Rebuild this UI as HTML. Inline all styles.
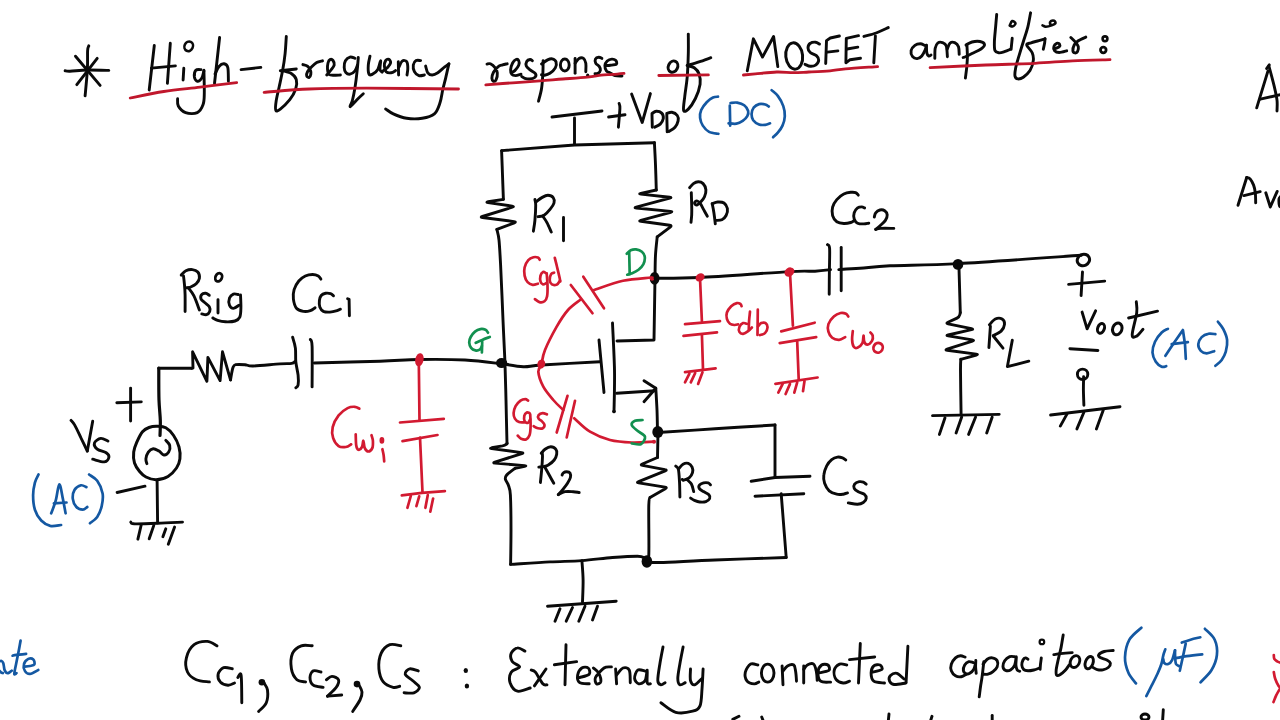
<!DOCTYPE html>
<html><head><meta charset="utf-8"><title>High-frequency response of MOSFET amplifier</title>
<style>
html,body{margin:0;padding:0;background:#fff;width:1280px;height:720px;overflow:hidden;font-family:"Liberation Sans",sans-serif;}
svg{display:block;position:absolute;left:0;top:0;}
</style></head><body>
<svg width="1280" height="720" viewBox="0 0 1280 720" fill="none" stroke-linecap="round" stroke-linejoin="round">
<path d="M88.8 45.8C88.6 46.6 87.8 46.9 87.6 50.8C87.4 54.7 87.8 61.7 87.4 69.2C87 76.7 85.5 91.4 85.1 95.8" stroke="#0a0a0a" stroke-width="2.9"/>
<path d="M65.1 70.8C65.9 70.9 66.3 71.3 70 71.2C73.7 71.1 80.7 70.1 87.2 70C93.7 69.9 105.2 70.3 108.8 70.4" stroke="#0a0a0a" stroke-width="2.9"/>
<path d="M75.5 56.2 L100.1 85.4" stroke="#0a0a0a" stroke-width="2.9"/>
<path d="M97.2 58.3 L76.8 84.6" stroke="#0a0a0a" stroke-width="2.9"/>
<path d="M154.3 45.5 L149.2 90" stroke="#0a0a0a" stroke-width="2.9"/>
<path d="M170.3 43.3 L167.4 83.4" stroke="#0a0a0a" stroke-width="2.9"/>
<path d="M151.4 68.1 L175.4 65.9" stroke="#0a0a0a" stroke-width="2.9"/>
<path d="M183.8 68.3 L183.1 80" stroke="#0a0a0a" stroke-width="2.9"/>
<ellipse cx="188.7" cy="46.3" rx="4.2" ry="4.9" transform="rotate(25 188.7 46.3)" stroke="#0a0a0a" stroke-width="2.6"/>
<path d="M201 69.6C200.1 69.7 196.9 69.1 195.8 70.3C194.7 71.5 194.2 75.1 194.4 76.9C194.7 78.7 196.1 81.1 197.3 81.3C198.5 81.5 200.6 80 201.7 78.3C202.8 76.6 203.5 72.2 203.9 71" stroke="#0a0a0a" stroke-width="2.9"/>
<path d="M203.9 70.3C204 74.1 204.4 87.2 204.3 92.9C204.2 98.6 204.3 101.3 203.1 104.6C201.9 107.9 200.2 111.3 197.3 112.6C194.4 113.9 188.8 113.7 185.6 112.6C182.4 111.5 179.6 108.3 178.3 106C177 103.7 177.7 100 177.6 98.8" stroke="#0a0a0a" stroke-width="2.9"/>
<path d="M219.6 37.5 L214.5 83.5" stroke="#0a0a0a" stroke-width="2.9"/>
<path d="M215 74C215.7 72.8 217.5 68.2 219 66.5C220.5 64.8 222.5 63.6 224 63.8C225.5 64 227.1 64.6 227.8 67.5C228.5 70.4 228.3 79 228.4 81.3" stroke="#0a0a0a" stroke-width="2.9"/>
<path d="M241.1 69.6 L260.8 67.4" stroke="#0a0a0a" stroke-width="2.9"/>
<path d="M130.2 98C135.8 96.9 152.1 93.3 163.8 91.5C175.5 89.7 188 88.6 200.2 87.1C212.3 85.6 230.6 83.4 236.7 82.7" stroke="#c0172c" stroke-width="2.8"/>
<path d="M286.3 36.5C286.1 39.4 285.7 48 285.1 53.6C284.5 59.2 283.7 64.6 282.7 70.1C281.7 75.6 280.3 81.6 279.2 86.7C278.1 91.8 276.8 96.9 276.2 100.8C275.6 104.7 275.1 108.9 275.8 110.3C276.5 111.7 278 110.9 280.3 109.1C282.6 107.3 287.2 103 289.8 99.7C292.4 96.4 294.6 92.3 295.7 89C296.8 85.7 297 82.1 296.3 79.6C295.6 77 293.9 75.2 291.6 73.7C289.3 72.2 284.2 71.2 282.7 70.7" stroke="#0a0a0a" stroke-width="2.9"/>
<path d="M280.3 70.7 L296.3 69" stroke="#0a0a0a" stroke-width="2.9"/>
<path d="M302.9 64.6C303.7 64.9 306.2 65.3 307.5 66.2C308.8 67.2 309.8 68.7 310.4 70C310.9 71.3 311 73 310.8 74.2C310.6 75.5 309.9 77.2 309.2 77.5C308.5 77.8 307 76.8 306.7 75.8C306.4 74.8 306.7 73.2 307.5 71.7C308.3 70.2 310.2 68.2 311.7 66.7C313.2 65.2 314.9 63.5 316.7 62.5C318.5 61.5 321.5 61.1 322.5 60.8" stroke="#0a0a0a" stroke-width="2.9"/>
<path d="M326.7 75C327.4 74.2 329.8 71.7 331 70C332.2 68.3 333.9 66.6 334.2 65C334.5 63.4 333.7 61.4 333 60.5C332.3 59.6 330.8 59.2 330 59.6C329.2 60 328.4 61.4 328 63C327.6 64.6 327.3 67.1 327.5 69C327.7 70.9 327.8 73.5 329 74.5C330.2 75.5 333.1 75.1 335 75.2C336.9 75.3 339.5 75 340.4 75" stroke="#0a0a0a" stroke-width="2.9"/>
<path d="M355 58.3C354.2 58.1 351.6 56.7 350 57.1C348.4 57.5 346.4 59.1 345.4 60.8C344.4 62.5 344.1 65.5 344.2 67.5C344.3 69.5 344.8 71.4 345.8 72.5C346.8 73.6 348.5 74.5 350 74.2C351.5 73.9 353.8 72.3 355 70.8C356.2 69.3 357.1 66 357.5 65" stroke="#0a0a0a" stroke-width="2.9"/>
<path d="M358.3 57.5C358.1 59.7 357.7 65.8 357.1 70.8C356.6 75.8 355.8 82.6 355 87.5C354.2 92.4 353.3 96.8 352.5 100C351.7 103.2 349.5 106.7 350.2 106.7C350.9 106.7 354.5 102.2 356.7 100C358.9 97.8 362.2 94.8 363.3 93.8" stroke="#0a0a0a" stroke-width="2.9"/>
<path d="M370 56.1C369.7 57.6 368.5 62 368.3 65C368.1 68 368.2 72.3 368.9 73.9C369.5 75.5 370.7 75.2 372.2 74.4C373.7 73.7 376.4 71.7 377.8 69.4C379.2 67.1 380.2 60.6 380.6 60.6C381 60.6 379.7 67.5 380 69.4C380.3 71.3 381.8 71.7 382.2 72.2" stroke="#0a0a0a" stroke-width="2.9"/>
<path d="M383.3 70.6C384.1 70 386.6 68.5 387.8 67.2C389 65.9 390.4 64.1 390.6 62.8C390.8 61.5 389.7 59.8 388.9 59.4C388.1 59 386.4 59.5 385.6 60.6C384.9 61.7 384.3 64.2 384.4 66.1C384.5 67.9 385 70.6 386.1 71.7C387.2 72.8 389.5 73 391.1 72.8C392.7 72.6 394.9 71 395.6 70.6" stroke="#0a0a0a" stroke-width="2.9"/>
<path d="M398.3 61.7 L398.6 75" stroke="#0a0a0a" stroke-width="2.9"/>
<path d="M398.9 67.2C399.4 66.2 400.9 62 402.2 61.1C403.5 60.2 405.8 60.5 406.7 61.7C407.6 62.9 407.8 66.1 407.8 68.3C407.9 70.5 407.1 73.9 407 75" stroke="#0a0a0a" stroke-width="2.9"/>
<path d="M420.6 60.6C419.9 60.6 417.3 59.9 416.1 60.6C414.9 61.3 413.6 63.1 413.3 65C413 66.8 413.5 69.9 414.4 71.7C415.3 73.5 417.2 75 418.9 75.6C420.6 76.1 423.5 75.1 424.4 75" stroke="#0a0a0a" stroke-width="2.9"/>
<path d="M425.6 66.1C426 67.2 426.7 71.3 427.8 72.8C428.9 74.3 430.5 75 432.2 75C433.9 75 435.8 74.1 437.8 72.8C439.8 71.5 442.5 68.7 444.4 67.2C446.2 65.7 448.1 64.5 448.9 63.9" stroke="#0a0a0a" stroke-width="2.9"/>
<path d="M448.9 63.9C448.3 66.3 446.6 74 445.6 78.3C444.6 82.5 443.7 85.3 442.8 89.4C441.9 93.5 441.4 98.7 440 102.8C438.6 106.9 437.4 111.3 434.4 113.9C431.4 116.5 426.8 117.6 422.2 118.3C417.6 119 411.5 119 406.7 118.3C401.9 117.6 396.8 115.5 393.3 113.9C389.8 112.3 386.9 109.7 385.6 108.9" stroke="#0a0a0a" stroke-width="2.9"/>
<path d="M264.1 92.3C271.6 91.8 292.1 89.7 309.2 89C326.3 88.3 341.7 88.2 366.6 88.2C391.5 88.2 443.2 88.9 458.5 89" stroke="#c0172c" stroke-width="2.8"/>
<path d="M487 64.1C487.6 64 489.1 63.2 490.4 63.8C491.7 64.4 493.9 66.1 495 67.6C496.1 69.1 497.1 70.9 497.3 72.9C497.5 74.9 496.7 78.4 496.1 79.8C495.5 81.2 494.2 81.5 493.5 81.3C492.8 81 491.9 79.8 491.9 78.3C491.9 76.8 492.5 74.1 493.5 72.2C494.5 70.3 496.5 68 498 66.8C499.5 65.6 501.1 65.4 502.6 64.9C504.1 64.4 506.4 64 507.2 63.8" stroke="#0a0a0a" stroke-width="2.9"/>
<path d="M511 72.9C511.6 72.5 513.5 71.9 514.8 70.6C516.1 69.3 518.1 66.9 518.7 65.3C519.4 63.6 519.2 61.7 518.7 60.7C518.2 59.7 517 59.1 516 59.5C515 59.9 513.5 61.3 512.6 63C511.7 64.7 510.7 68 510.6 69.9C510.5 71.8 511 73.5 511.8 74.4C512.6 75.4 514.1 75.6 515.6 75.6C517.1 75.5 520.1 74.3 521 74.1" stroke="#0a0a0a" stroke-width="2.9"/>
<path d="M532.4 60.7C532 60.5 531 59.4 530.1 59.5C529.2 59.6 527.3 60.4 526.7 61.5C526.1 62.6 525.7 64.6 526.3 66C526.9 67.4 528.6 68.6 530.1 69.9C531.6 71.2 534.7 72.4 535.5 73.7C536.3 75 535.7 76.6 534.7 77.5C533.7 78.4 531 78.9 529.4 79C527.8 79.1 526.1 78.7 524.8 78.3C523.5 77.9 522.2 76.7 521.7 76.4" stroke="#0a0a0a" stroke-width="2.9"/>
<path d="M543.1 60.7C543.1 62.7 543.1 68.3 542.9 72.9C542.6 77.5 542.3 83.5 541.6 88.2C540.9 92.9 539 99 538.5 101.2" stroke="#0a0a0a" stroke-width="2.9"/>
<path d="M541.5 64C542.5 63.3 545.8 60.8 547.6 59.9C549.4 59 550.8 58.5 552.2 58.8C553.6 59.1 555.5 60.3 556 61.8C556.5 63.3 556.3 66 555.3 67.9C554.3 69.8 551.7 72.1 549.9 73.3C548.1 74.5 546 75 544.6 75.2C543.2 75.5 542 74.9 541.5 74.8" stroke="#0a0a0a" stroke-width="2.9"/>
<ellipse cx="564.8" cy="65" rx="4.4" ry="6" stroke="#0a0a0a" stroke-width="2.9"/>
<path d="M575.1 58.4 L575.1 73.3" stroke="#0a0a0a" stroke-width="2.9"/>
<path d="M575.1 63.3C575.8 62.5 577.6 59.2 579 58.4C580.4 57.6 582.4 57.6 583.5 58.4C584.6 59.2 585.4 61.1 585.8 63.3C586.2 65.5 585.8 70.3 585.8 71.7" stroke="#0a0a0a" stroke-width="2.9"/>
<ellipse cx="587.7" cy="75.2" rx="1.6" ry="1.6" fill="#0a0a0a" stroke="none"/>
<path d="M601.9 58.4C601.4 58.2 599.9 57.1 598.8 57.2C597.7 57.3 595.9 58.1 595.4 59.1C594.9 60.1 595.2 62.1 595.8 63.3C596.4 64.5 598.4 65.2 599.2 66.4C600 67.6 600.6 69.1 600.4 70.2C600.2 71.3 599 72.7 598.1 73.3C597.2 73.9 595.5 73.5 595 73.6" stroke="#0a0a0a" stroke-width="2.9"/>
<path d="M605.7 65.6C606.5 65.5 608.5 65.5 610.3 65.2C612.1 65 615.5 64.9 616.4 64.1C617.3 63.3 616.4 61.1 615.6 60.3C614.8 59.5 613.2 59 611.8 59.1C610.4 59.2 608.4 59.9 607.2 61C606.1 62.1 605 63.9 604.9 65.6C604.8 67.3 605.7 69.8 606.5 71C607.3 72.2 608.1 71.8 609.5 72.5C610.9 73.2 612.9 74.9 615 75.5C617.1 76.1 620.8 75.9 622 76" stroke="#0a0a0a" stroke-width="2.9"/>
<path d="M485.8 84.8C490.3 84.5 503.6 83.4 512.6 82.8C521.6 82.2 531.6 81.5 540 80.9C548.4 80.3 555 79.6 562.9 79C570.8 78.4 581 77.7 587.4 77.1C593.8 76.5 596.9 75.7 601.1 75.2C605.3 74.8 608.8 74.7 612.6 74.4C616.4 74.1 622.1 73.5 624 73.3" stroke="#c0172c" stroke-width="2.8"/>
<ellipse cx="673" cy="66.6" rx="4.6" ry="5.8" transform="rotate(25 673 66.6)" stroke="#0a0a0a" stroke-width="3"/>
<path d="M688.3 34.1C688.3 37.4 688.5 46.4 688.3 53.6C688.1 60.8 687.8 70.1 687.2 77.2C686.6 84.3 685.4 90.6 684.8 96.1C684.2 101.6 683 108.1 683.6 110.3C684.2 112.5 686.3 111.1 688.3 109.1C690.3 107.1 693.4 102.6 695.4 98.5C697.4 94.4 699.5 88.4 700.1 84.3C700.7 80.2 700 76.5 699 73.7C698 71 696.2 69.2 694.2 67.8C692.2 66.4 688.4 65.8 687.2 65.4" stroke="#0a0a0a" stroke-width="2.9"/>
<path d="M687.2 65.4C689.2 64.8 695.1 63.2 699 61.9C702.9 60.6 708.8 58.4 710.8 57.7" stroke="#0a0a0a" stroke-width="2.9"/>
<path d="M658.8 75.5L708.4 74.9" stroke="#c0172c" stroke-width="2.8"/>
<path d="M747.3 70.8 L753.4 38.8 L762.5 57.1 L773.6 36.5 L777.8 66.6" stroke="#0a0a0a" stroke-width="2.9"/>
<ellipse cx="794.2" cy="56" rx="8.4" ry="13.2" transform="rotate(-6 794.2 56)" stroke="#0a0a0a" stroke-width="3"/>
<path d="M819.5 44.1C818.9 43.8 817.1 42.3 815.6 42.2C814.1 42.1 811.6 42.3 810.3 43.3C809 44.2 808 46.4 808 47.9C808 49.4 808.9 51.2 810.3 52.5C811.7 53.8 815 54.3 816.4 55.6C817.8 56.9 818.8 58.5 818.7 60.1C818.6 61.7 817 64.1 815.6 65.1C814.2 66.1 812.1 66.4 810.3 66.3C808.5 66.2 805.9 64.6 805 64.3" stroke="#0a0a0a" stroke-width="2.9"/>
<path d="M825.7 63.5 L826.5 40.6 L830.3 38 L839.4 36" stroke="#0a0a0a" stroke-width="2.9"/>
<path d="M827.2 52.1 L837.9 50.9" stroke="#0a0a0a" stroke-width="2.9"/>
<path d="M858.5 35.7 L846.3 38.3 L845.9 62.8 L850.1 59.7 L860.5 58.2" stroke="#0a0a0a" stroke-width="2.9"/>
<path d="M847.1 49 L857.8 47.1" stroke="#0a0a0a" stroke-width="2.9"/>
<path d="M863.9 36.4C865.9 35.8 872 34.5 876.1 33C880.2 31.5 886.3 28.5 888.3 27.6" stroke="#0a0a0a" stroke-width="2.9"/>
<path d="M875.4 36 L873.8 62.8" stroke="#0a0a0a" stroke-width="2.9"/>
<path d="M743.4 75C745.4 74.8 749.8 74.4 755.3 73.9C760.8 73.4 770.3 72.2 776.7 72C783.1 71.8 788.1 72.7 793.5 72.7C798.9 72.7 802.7 72.3 808.8 72C814.9 71.7 823.9 71.3 830 70.8C836.1 70.3 837.7 69.6 845.6 68.9C853.5 68.2 872.3 67 877.6 66.6" stroke="#c0172c" stroke-width="2.8"/>
<path d="M924.5 45.3C923.8 45 921.9 43.8 920.3 43.8C918.7 43.8 916.4 44.2 914.9 45.3C913.4 46.4 911.5 48.7 911.1 50.6C910.7 52.5 911.6 55.4 912.6 56.7C913.6 58 915.7 58.7 917.2 58.6C918.7 58.5 920.5 57.5 921.8 56C923.1 54.5 924.4 51.7 925.2 49.9C926 48.1 926.2 46.1 926.4 45.3" stroke="#0a0a0a" stroke-width="2.9"/>
<path d="M926.4 45.3C926.5 46.6 926.4 51.1 926.8 52.9C927.2 54.7 928 55.6 928.7 56C929.4 56.4 930.6 55.2 931 55" stroke="#0a0a0a" stroke-width="2.9"/>
<path d="M934.8 58.3C934.9 56.6 934.7 50.8 935.2 48.3C935.7 45.8 936.6 44 937.8 43C939 42 941 42.1 942.4 42.6C943.8 43.1 945.5 43.6 946.3 46C947.1 48.4 947.2 54.9 947.4 56.7" stroke="#0a0a0a" stroke-width="2.9"/>
<path d="M947.2 49C947.7 48 948.9 44.1 950.1 43C951.4 41.9 953.3 42 954.7 42.6C956.1 43.2 957.8 44.8 958.5 46.8C959.2 48.8 959.1 53.1 959.2 54.4" stroke="#0a0a0a" stroke-width="2.9"/>
<path d="M966.9 44.5C967 46.5 967.4 53 967.4 56.7C967.4 60.4 967.1 63.1 966.8 66.7C966.5 70.3 965.6 76.2 965.4 78.1" stroke="#0a0a0a" stroke-width="2.9"/>
<path d="M963.1 57.5C963.6 57.3 964.5 57.2 966 56.5C967.5 55.8 969.5 54.8 972 53.5C974.5 52.2 978.9 50.5 981 49C983.1 47.5 984.7 45.8 984.5 44.5C984.3 43.2 982.1 41.9 980 41.5C977.9 41.1 974.3 41.4 972 42C969.7 42.6 967 44.5 966 45" stroke="#0a0a0a" stroke-width="2.9"/>
<path d="M996.7 14.4C996.5 16.5 996 22.6 995.6 27.2C995.2 31.8 994.5 37.8 994.4 41.7C994.3 45.6 994.2 48.8 995 50.6C995.8 52.5 997.3 52.6 998.9 52.8C1000.5 53 1002.5 52.3 1004.4 51.7C1006.2 51.1 1009.1 49.8 1010 49.4" stroke="#0a0a0a" stroke-width="2.9"/>
<path d="M1012.2 38.3 L1011.1 49.4" stroke="#0a0a0a" stroke-width="2.9"/>
<path d="M1009.7 25.6C1010.1 24.8 1011.2 21.4 1012.2 21C1013.2 20.6 1015.4 22.6 1015.5 23.5C1015.6 24.4 1013.6 26 1012.7 26.4C1011.8 26.8 1010.4 25.9 1009.9 25.8" stroke="#0a0a0a" stroke-width="2.6"/>
<path d="M1030.6 12.8C1030.1 15.2 1029 22.4 1027.8 27.2C1026.6 32 1024.8 36.9 1023.3 41.7C1021.8 46.5 1020.2 51.7 1018.9 56.1C1017.6 60.5 1016.2 65 1015.6 68.3C1015 71.6 1014.6 74.3 1015 76.1C1015.4 77.9 1016.4 78.7 1017.8 78.9C1019.2 79.1 1021.3 78.6 1023.3 77.2C1025.3 75.8 1028.3 73.4 1030 70.6C1031.7 67.8 1032.9 63.6 1033.3 60.6C1033.7 57.6 1033.3 55.4 1032.2 52.8C1031.1 50.2 1026.9 46.7 1026.7 45C1026.5 43.3 1029.1 43.5 1031.1 42.8C1033.1 42.1 1036.6 41.3 1038.9 40.6C1041.2 39.9 1044 39.1 1045 38.8" stroke="#0a0a0a" stroke-width="2.9"/>
<path d="M1045 38.8C1044.9 39.5 1044.9 41.6 1044.6 43.3C1044.3 45 1043.5 48.2 1043.3 49.2" stroke="#0a0a0a" stroke-width="2.9"/>
<path d="M1042.5 25.4C1043 25.6 1044.3 26.7 1045.8 26.7C1047.3 26.7 1050.1 26 1051.7 25.4C1053.3 24.8 1055 24.1 1055.4 23.3C1055.8 22.5 1055 21.1 1054.2 20.8C1053.4 20.5 1051.5 20.8 1050.8 21.2C1050.1 21.7 1049.8 23.1 1050 23.8C1050.2 24.4 1051.4 24.8 1051.7 25" stroke="#0a0a0a" stroke-width="2.6"/>
<path d="M1056.2 48.3C1056.7 48 1058.6 47.4 1059.2 46.7C1059.8 46 1060 44.8 1059.6 44.2C1059.2 43.6 1057.7 42.9 1056.7 43.3C1055.7 43.7 1054.1 45.5 1053.8 46.7C1053.4 48 1053.7 49.8 1054.6 50.8C1055.5 51.8 1057.2 52.5 1059.2 52.5C1061.2 52.5 1065.5 51.1 1066.7 50.8" stroke="#0a0a0a" stroke-width="2.9"/>
<path d="M1070.8 37.5C1071.5 38.2 1073.8 40.2 1075 41.7C1076.2 43.2 1077.9 45 1078.3 46.7C1078.7 48.4 1078 50.7 1077.5 51.7C1077 52.7 1075.8 53 1075 52.9C1074.2 52.8 1073 52.1 1072.9 50.8C1072.8 49.5 1073.3 46.7 1074.2 45C1075.1 43.3 1076.4 42.1 1078.3 40.8C1080.2 39.5 1084.5 37.7 1085.8 37.1" stroke="#0a0a0a" stroke-width="2.9"/>
<circle cx="1105" cy="38.8" r="2.4" stroke="#0a0a0a" stroke-width="2.6"/>
<circle cx="1103.3" cy="50" r="2.8" stroke="#0a0a0a" stroke-width="2.8"/>
<path d="M930.1 67.6C939.4 67.2 968.4 65.7 985.9 65C1003.4 64.3 1020.6 64 1035 63.3C1049.4 62.6 1060 61.4 1072.5 60.8C1085 60.2 1103.8 59.8 1110 59.6" stroke="#c0172c" stroke-width="2.8"/>
<path d="M552 117 L602 111" stroke="#0a0a0a" stroke-width="2.9"/>
<path d="M574.5 118 L574.5 144" stroke="#0a0a0a" stroke-width="2.9"/>
<path d="M608.6 117 L625 114.7" stroke="#0a0a0a" stroke-width="2.9"/>
<path d="M619.1 103.4C619.2 104.2 620 104.4 619.9 108.4C619.8 112.4 618.6 124.1 618.4 127.2" stroke="#0a0a0a" stroke-width="2.9"/>
<path d="M631.6 94 L642.2 122.5 L650.4 93.6" stroke="#0a0a0a" stroke-width="2.9"/>
<path d="M652 114.7L652.3 127.2" stroke="#0a0a0a" stroke-width="2.9"/>
<path d="M652 113.5C652.7 113.1 654.6 111.3 656.2 111.2C657.9 111.1 660.5 111.9 661.7 113.1C662.9 114.3 663.5 116.8 663.3 118.6C663 120.4 661.6 122.7 660.2 124.1C658.8 125.5 655.6 126.7 654.7 127.2" stroke="#0a0a0a" stroke-width="2.9"/>
<path d="M666.8 114.7L667.2 131.9" stroke="#0a0a0a" stroke-width="2.9"/>
<path d="M666.8 113.5C667.6 113.3 670.1 112 671.9 112.3C673.6 112.6 676.3 114.1 677.3 115.5C678.3 116.9 678.5 119 678.1 120.9C677.7 122.9 676.6 125.4 675 127.2C673.4 129 669.8 130.8 668.8 131.5" stroke="#0a0a0a" stroke-width="2.9"/>
<path d="M718 96.7C717.2 96.8 714.9 96.6 713 97.5C711.1 98.4 708.7 100.1 706.7 102.2C704.7 104.3 702.4 107.4 701.2 110C700.1 112.6 699.8 115.2 700.1 117.8C700.4 120.4 701.3 123.2 702.8 125.6C704.3 127.9 706.5 130.5 709.1 131.9C711.7 133.3 716.9 133.5 718.4 133.8" stroke="#1458a2" stroke-width="2.7"/>
<path d="M729.8 105.7L730.2 125.6" stroke="#1458a2" stroke-width="2.7"/>
<path d="M730.5 103C731.6 102.9 734.9 102.2 737.2 102.6C739.5 103 742.4 103.9 744.2 105.3C746 106.7 747.6 109 748.1 110.8C748.6 112.6 748.2 114.6 747.3 116.2C746.4 117.9 744.5 119.7 742.7 120.9C740.9 122.1 738.8 123.3 736.4 123.7C734 124.1 729.9 123.4 728.6 123.3" stroke="#1458a2" stroke-width="2.7"/>
<path d="M768.8 106.5C768.2 106.2 766.9 104.9 765.3 104.5C763.7 104.1 761 103.6 759.1 104.1C757.2 104.6 754.9 106.1 753.6 107.7C752.4 109.3 751.7 111.8 751.6 113.9C751.5 116 752 118.4 753.2 120.2C754.5 122 757.1 123.7 759.1 124.5C761.1 125.3 763.5 125 765.3 124.8C767.1 124.6 769.2 123.5 770 123.3" stroke="#1458a2" stroke-width="2.7"/>
<path d="M771.6 90.1C772.6 91.1 775.8 93.2 777.8 95.9C779.8 98.6 782.1 102.7 783.3 106.1C784.5 109.5 784.9 113 784.8 116.2C784.7 119.5 783.7 122.9 782.5 125.6C781.3 128.3 779.4 130.8 777.8 132.7C776.2 134.6 773.9 136.5 773.1 137.3" stroke="#1458a2" stroke-width="2.7"/>
<path d="M501.6 150.6 L574.5 145 L654.4 142.8" stroke="#0a0a0a" stroke-width="2.9"/>
<path d="M501.6 150.6C501.8 154.7 502.2 166.9 502.5 175C502.8 183.1 503.2 195.3 503.4 199.4" stroke="#0a0a0a" stroke-width="2.9"/>
<path d="M503.4 199.4L488.1 201.8Q485.6 202.2 488.1 202.6L512.2 206.1Q514.7 206.5 512.3 207.2L482.4 216.5Q480 217.2 482.5 217.5L514.1 221.6Q516.6 221.9 514.3 222.8L496.9 229.4" stroke="#0a0a0a" stroke-width="2.9"/>
<path d="M496.9 229.4C497.2 231.2 498.4 234.1 499 240C499.6 245.9 499.9 251.7 500.6 265C501.3 278.3 502.3 303.7 503 320C503.7 336.3 504.7 355.8 505 363" stroke="#0a0a0a" stroke-width="2.9"/>
<path d="M654.4 142.8C654.6 146.5 655.2 157.1 655.5 165C655.8 172.9 656.2 185.8 656.3 190" stroke="#0a0a0a" stroke-width="2.9"/>
<path d="M656.3 190L640.8 193.3Q638.4 193.8 640.9 194.1L669.7 197.2Q672.2 197.5 669.8 198.1L636.2 207.2Q633.8 207.8 636.3 208L670.6 211.4Q673.1 211.6 670.7 212.3L640.8 220.3Q638.4 221 640.9 221.3L669.7 225.3Q672.2 225.6 670.2 227.1L657.2 236.9" stroke="#0a0a0a" stroke-width="2.9"/>
<path d="M657.2 236.9C656.9 239.9 655.9 248.2 655.5 255C655.1 261.9 655.1 274.2 655 278" stroke="#0a0a0a" stroke-width="2.9"/>
<path d="M655 278 L654 340 L617 341" stroke="#0a0a0a" stroke-width="2.9"/>
<ellipse cx="654.6" cy="278.3" rx="4.9" ry="6.4" fill="#0a0a0a" stroke="none"/>
<path d="M534.9 199.5C535 200.5 535.7 201.8 535.7 205.3C535.7 208.8 535.3 216.2 534.9 220.5C534.5 224.8 533.6 229.4 533.4 231.2" stroke="#0a0a0a" stroke-width="2.9"/>
<path d="M536.5 201.5C537.4 200.8 539.9 198.6 541.8 197.6C543.7 196.6 546 195.3 547.9 195.3C549.8 195.3 552.2 196.3 553.2 197.6C554.2 198.9 554.5 201.1 554 203C553.5 204.9 551.9 207.1 550.2 209.1C548.6 211.1 546.1 213.9 544.1 215.2C542.1 216.5 539 216.4 538 216.7" stroke="#0a0a0a" stroke-width="2.9"/>
<path d="M542.6 216C543.4 217.1 545.7 220.1 547.1 222.8C548.5 225.5 550.6 230.5 551.3 232" stroke="#0a0a0a" stroke-width="2.9"/>
<path d="M563.5 217.5 L563.5 240.8" stroke="#0a0a0a" stroke-width="2.9"/>
<path d="M689.6 187.7C690.2 187 692 184.6 693.4 183.6C694.8 182.6 696.7 181.8 698.3 181.8C699.9 181.8 701.8 182.3 703.1 183.6C704.4 184.9 705.7 187.6 705.9 189.8C706.1 192 705.3 194.8 704.5 196.8C703.7 198.7 702.4 200.2 701.1 201.6C699.8 203 698 204.9 696.9 205.1C695.8 205.3 694.5 203.7 694.5 203C694.5 202.3 695.9 200.8 696.9 200.9C697.9 201 699.2 202.2 700.4 203.7C701.5 205.2 702.6 207.8 703.8 209.9C704.9 212 706.7 215.1 707.3 216.2" stroke="#0a0a0a" stroke-width="2.9"/>
<path d="M691.3 192.6C691.4 194.8 691.6 202.1 691.7 205.8C691.8 209.5 691.8 212 691.7 214.8C691.6 217.6 691.1 221.1 691 222.4" stroke="#0a0a0a" stroke-width="2.9"/>
<path d="M712.2 203.7C712.5 205.2 713.4 209.3 713.9 212.7C714.4 216 715.1 222 715.3 223.8" stroke="#0a0a0a" stroke-width="2.9"/>
<path d="M712.2 203.7C713.1 203.4 715.7 202.1 717.7 202C719.7 201.9 722.4 201.9 724 203C725.6 204.1 727 206.5 727.4 208.6C727.8 210.7 727 213.7 726.1 215.5C725.2 217.3 723.5 218.9 721.9 219.7C720.3 220.5 717.2 220.3 716.3 220.4" stroke="#0a0a0a" stroke-width="2.9"/>
<path d="M599 340 L604 392.5" stroke="#0a0a0a" stroke-width="2.9"/>
<path d="M612.5 323C612.8 330.8 614.2 355.2 614.5 370C614.8 384.8 614.1 404.8 614 411.7" stroke="#0a0a0a" stroke-width="2.9"/>
<ellipse cx="614" cy="411.5" rx="1.8" ry="1.8" fill="#0a0a0a" stroke="none"/>
<path d="M616.7 393.3 L655 390.8" stroke="#0a0a0a" stroke-width="2.9"/>
<path d="M644 380.8 L655.8 388.3 L644 401.7" stroke="#0a0a0a" stroke-width="2.9"/>
<path d="M655.8 388.3C656 391.9 656.7 402.8 657 410C657.3 417.2 657.4 428.1 657.5 431.7" stroke="#0a0a0a" stroke-width="2.9"/>
<path d="M501 363.5C504.7 364 516.5 366.4 523.3 366.7C530.1 366.9 528.9 365.8 541.7 365C554.5 364.2 590.3 362.2 600 361.7" stroke="#0a0a0a" stroke-width="2.9"/>
<ellipse cx="501.6" cy="363.1" rx="5.6" ry="5" fill="#0a0a0a" stroke="none"/>
<ellipse cx="657.8" cy="432" rx="5.5" ry="6" fill="#0a0a0a" stroke="none"/>
<path d="M541.7 363.3C542.2 361.1 542.5 356.1 545 350C547.5 343.9 552.9 333.4 556.7 326.7C560.5 320 564.1 314.4 568 310C571.9 305.6 578 301.7 580 300" stroke="#d21a31" stroke-width="2.7"/>
<path d="M570.8 285 L592.5 313.3" stroke="#d21a31" stroke-width="2.7"/>
<path d="M583.3 276.7 L604 308.3" stroke="#d21a31" stroke-width="2.7"/>
<path d="M594 290C598.8 288.5 613.5 282.9 623 280.8C632.5 278.7 646.3 278.1 651 277.5" stroke="#d21a31" stroke-width="2.7"/>
<ellipse cx="652" cy="278.5" rx="2.3" ry="2.3" fill="#d21a31" stroke="none"/>
<ellipse cx="541.3" cy="364" rx="3.9" ry="4.6" transform="rotate(20 541.3 364)" fill="#d21a31"/>
<path d="M539.7 259.7C539.4 259.3 538.9 257.9 537.9 257.5C536.9 257.1 535.1 256.8 533.5 257.2C531.9 257.6 529.8 258.4 528.3 260.1C526.8 261.8 525.2 264.9 524.6 267.5C524 270.1 524.1 273.2 524.6 275.6C525.1 278.1 526.2 280.7 527.6 282.2C529 283.7 531 284.6 532.7 284.8C534.4 285.1 537 283.9 537.9 283.7" stroke="#d21a31" stroke-width="2.7"/>
<path d="M546.4 273.4C545.8 273.1 544 271.5 543 271.9C542 272.3 540.9 274 540.5 275.6C540.1 277.2 540.1 280 540.5 281.5C540.9 283 542 284.2 543 284.4C544 284.6 546.1 283.1 546.7 282.9" stroke="#d21a31" stroke-width="2.7"/>
<path d="M546.7 273.4C546.8 275.3 547.4 281.3 547.5 285.1C547.6 288.9 547.6 293.5 547.1 296.2C546.6 298.9 545.8 300.3 544.5 301.3C543.2 302.3 541 302.5 539.4 302.1C537.8 301.7 535.6 299.6 534.9 299.1" stroke="#d21a31" stroke-width="2.7"/>
<path d="M554.1 272.6C553.6 272.9 551.8 272.9 551.1 274.1C550.4 275.3 549.6 278.3 549.7 280C549.8 281.7 550.7 283.7 551.9 284.4C553.1 285.1 555.6 285 557 284.4C558.4 283.8 559.5 281.3 560 280.7" stroke="#d21a31" stroke-width="2.7"/>
<path d="M554.8 257.9C555.2 259.4 556.2 263.4 557 266.7C557.8 270 559.1 275.3 559.6 277.8C560.1 280.3 560.2 280.9 560.3 281.5" stroke="#d21a31" stroke-width="2.7"/>
<path d="M629.2 252.3 L629.7 274.2" stroke="#12904f" stroke-width="2.7"/>
<path d="M626.8 253.8C627.4 253.2 629.2 251 630.7 250.3C632.2 249.6 634.1 249.2 636 249.4C637.9 249.7 640.4 250.5 641.9 251.8C643.4 253.1 644.6 255.1 644.8 257.2C645 259.3 644.3 262.3 643.3 264.4C642.2 266.5 640.4 268.3 638.5 269.8C636.6 271.3 634.1 272.4 632.2 273.2C630.3 274 628.1 274.4 627.3 274.7" stroke="#12904f" stroke-width="2.7"/>
<path d="M541.7 365C541.1 366.1 538 368.1 538.3 371.7C538.6 375.3 540.8 382 543.3 386.7C545.8 391.4 550 396.1 553.3 400C556.6 403.9 561.6 408.3 563.3 410" stroke="#d21a31" stroke-width="2.7"/>
<path d="M567.5 395.8 L556.7 432.5" stroke="#d21a31" stroke-width="2.7"/>
<path d="M575 400.8 L566.7 437.5" stroke="#d21a31" stroke-width="2.7"/>
<path d="M574.2 418.3C576.8 420.5 584 428.1 590 431.7C596 435.3 603 438.2 610 440C617 441.8 624.3 442.2 631.7 442.5C639.1 442.8 650.5 441.8 654.2 441.7" stroke="#d21a31" stroke-width="2.7"/>
<ellipse cx="654" cy="441.7" rx="2" ry="2" fill="#d21a31" stroke="none"/>
<path d="M528.1 400.6C527.6 400.4 526.7 399.2 525.4 399.2C524.1 399.2 522.1 399.5 520.5 400.6C518.9 401.8 516.8 404 515.6 406.1C514.5 408.2 513.7 411 513.6 413.1C513.5 415.2 514 417.1 514.9 418.6C515.8 420.1 517.6 421.5 519.1 422.1C520.6 422.7 523.2 422.3 524 422.4" stroke="#d21a31" stroke-width="2.7"/>
<path d="M529.5 413.1C529 413 527.6 411.9 526.8 412.4C525.9 412.8 524.6 414.3 524.3 415.8C524 417.3 524.1 420.2 524.7 421.4C525.3 422.6 527.2 423.1 528.1 422.8C529 422.5 529.9 419.9 530.2 419.3" stroke="#d21a31" stroke-width="2.7"/>
<path d="M530.2 414.4C530.3 416.4 530.7 422.8 530.6 426.2C530.5 429.7 530.3 433.1 529.5 435.3C528.7 437.5 527.4 438.8 526 439.4C524.6 440 522.6 439.4 521.2 438.8C519.8 438.1 518.3 436.1 517.7 435.6" stroke="#d21a31" stroke-width="2.7"/>
<path d="M546.9 414.4C546.2 414.2 544.1 413 542.7 413.1C541.3 413.2 539.3 414.2 538.6 415.1C537.9 416 538 417.6 538.6 418.6C539.2 419.7 541 420.3 542 421.4C543 422.4 544.4 423.8 544.5 424.9C544.6 426 543.8 427.7 542.7 428.3C541.6 428.9 539.4 428.6 537.9 428.3C536.4 428 534.4 426.6 533.7 426.2" stroke="#d21a31" stroke-width="2.7"/>
<path d="M642.5 420C641.2 420.1 636.8 420 635 420.8C633.2 421.6 631.3 423.3 631.7 425C632.1 426.7 635.3 428.9 637.5 430.8C639.7 432.8 644.5 434.5 645 436.7C645.5 438.9 643 443.1 640.8 444.2C638.6 445.3 633.2 443.4 631.7 443.3" stroke="#12904f" stroke-width="2.7"/>
<path d="M488 332.7C487.6 332.2 486.8 330.4 485.5 329.8C484.2 329.2 482.1 328.8 480.4 329.1C478.6 329.4 476.6 330.3 475 331.6C473.4 332.9 471.7 335.2 470.7 337C469.7 338.8 469.1 340.6 469.2 342.4C469.3 344.2 470.1 346.6 471.1 347.9C472.1 349.2 474 350.1 475.4 350.4C476.8 350.7 478.6 350.4 479.7 349.7C480.8 349 481.5 346.6 481.9 346" stroke="#12904f" stroke-width="2.7"/>
<path d="M482.2 341.7 L481.9 352.5" stroke="#12904f" stroke-width="2.7"/>
<path d="M475.7 342.8C476.8 342.3 479.8 340.9 482.2 339.9C484.6 338.9 488.5 337.5 489.8 337" stroke="#12904f" stroke-width="2.7"/>
<path d="M505 364C505.2 370 505.7 386.7 506 400C506.3 413.3 506.8 436.5 507 443.8" stroke="#0a0a0a" stroke-width="2.9"/>
<path d="M507.1 443.3L506.1 444.4Q505 445.4 502.5 445.9L491.7 447.8Q489.2 448.3 491.7 448.6L521.7 452.6Q524.2 452.9 521.8 453.7L494.9 462.1Q492.5 462.9 495 463.1L524.6 465.6Q527.1 465.8 524.7 466.3L515 468.3" stroke="#0a0a0a" stroke-width="2.9"/>
<path d="M515 468.3C513.6 469.4 508.3 473.2 506.7 475C505.1 476.8 505.1 477.5 505.4 479.2C505.7 480.9 507.5 482.4 508.3 485C509.1 487.6 509.9 487.5 510.4 495C510.8 502.5 511 518.4 511 530C511 541.6 510.7 558.7 510.6 564.4" stroke="#0a0a0a" stroke-width="2.9"/>
<path d="M510.6 564.4C517.2 564 538.1 562.5 550 561.9C561.9 561.3 571.5 561.3 581.9 560.6C592.3 559.9 603.2 558.2 612.5 557.5C621.8 556.8 632.1 556.2 637.5 556.2C642.9 556.3 643.8 557.7 645 558" stroke="#0a0a0a" stroke-width="2.9"/>
<path d="M650 562C651.7 562.1 649.2 562.8 660 562.5C670.8 562.2 694 560.8 715 560C736 559.2 774.4 557.9 786.2 557.5" stroke="#0a0a0a" stroke-width="2.9"/>
<ellipse cx="646.9" cy="561.5" rx="5.3" ry="6.2" fill="#0a0a0a" stroke="none"/>
<path d="M581.9 560.6C582.1 563.8 583 573.1 583.1 580C583.2 586.9 582.6 598.3 582.5 602" stroke="#0a0a0a" stroke-width="2.9"/>
<path d="M547.5 606.2 L616.2 601.2" stroke="#0a0a0a" stroke-width="2.9"/>
<path d="M560 608.8 L555 621.2" stroke="#0a0a0a" stroke-width="2.9"/>
<path d="M572.5 607.5 L566.2 621.2" stroke="#0a0a0a" stroke-width="2.9"/>
<path d="M585 606.2 L578.8 621.2" stroke="#0a0a0a" stroke-width="2.9"/>
<path d="M597.5 606.2 L592.5 620" stroke="#0a0a0a" stroke-width="2.9"/>
<path d="M542.1 452.5C542.2 453.2 542.6 453.9 542.5 456.7C542.4 459.5 542.1 464.9 541.7 469.2C541.4 473.5 540.6 480.3 540.4 482.5" stroke="#0a0a0a" stroke-width="2.9"/>
<path d="M541.2 453.3C541.9 452.6 543.4 450.3 545 449.2C546.6 448.1 549 446.7 550.8 446.7C552.6 446.7 554.8 447.9 555.8 449.2C556.8 450.4 557 452.4 556.7 454.2C556.4 456 555.6 458.2 554.2 460C552.8 461.8 550.1 463.9 548.3 465C546.5 466.1 544.9 466.3 543.3 466.7C541.7 467.1 539.5 467 538.8 467.1" stroke="#0a0a0a" stroke-width="2.9"/>
<path d="M544.6 466.7C545.4 468.1 547.7 472.2 549.2 475C550.7 477.8 553 481.9 553.8 483.3" stroke="#0a0a0a" stroke-width="2.9"/>
<path d="M562.1 475C562.3 474.6 562.5 473.4 563.3 472.9C564.1 472.3 565.6 471.7 566.7 471.7C567.8 471.7 569.4 471.9 570 472.9C570.6 473.9 570.8 475.8 570.4 477.5C570 479.2 568.8 481.2 567.5 483.3C566.2 485.4 564 488.1 562.5 490C561 491.9 559 493.8 558.3 494.6" stroke="#0a0a0a" stroke-width="2.9"/>
<path d="M558.3 494.6C559.4 494.1 562.5 492.2 565 491.7C567.5 491.2 570.9 491.6 573.3 491.7C575.7 491.8 578.2 492.4 579.2 492.5" stroke="#0a0a0a" stroke-width="2.9"/>
<path d="M658 432.5L657.5 457.5" stroke="#0a0a0a" stroke-width="2.9"/>
<path d="M657.5 457.5L642.3 464Q640 465 642.5 465.4L665 469.6Q667.5 470 665.2 470.9L638.6 481.6Q636.2 482.5 638.7 482.9L665 487.1Q667.5 487.5 665.3 488.7L650 497.5" stroke="#0a0a0a" stroke-width="2.9"/>
<path d="M650 497.5C649.8 498.8 649 495.4 648.8 505C648.5 514.6 649.2 545.7 648.8 555C648.3 564.3 646.7 560 646.2 561" stroke="#0a0a0a" stroke-width="2.9"/>
<path d="M675.7 466.1C676.2 466.7 677.8 466.9 678.4 469.5C679 472.1 679.2 477.1 679.5 481.7C679.8 486.3 679.8 494.4 679.9 497" stroke="#0a0a0a" stroke-width="2.9"/>
<path d="M678.8 468.7C679.5 467.9 681.4 465.1 683 464.2C684.6 463.3 686.8 462.9 688.3 463.4C689.8 463.9 691.4 465.7 692.1 467.2C692.8 468.7 693 470.8 692.5 472.6C692 474.4 690.6 476.6 689.1 477.9C687.6 479.2 684.9 479.9 683.7 480.2C682.6 480.4 682.5 479.5 682.2 479.4" stroke="#0a0a0a" stroke-width="2.9"/>
<path d="M686.8 479.4C687.6 480.2 690.2 482 691.4 484C692.5 486 693.3 490.3 693.7 491.6" stroke="#0a0a0a" stroke-width="2.9"/>
<path d="M710.5 484.8C710.1 484.5 709.4 483.2 708.2 482.9C707.1 482.6 705.1 482.5 703.6 482.9C702.1 483.3 700.1 484.2 699.4 485.2C698.7 486.1 698.7 487.5 699.4 488.6C700.1 489.7 702 490.6 703.6 491.6C705.2 492.6 707.9 493.6 708.9 494.7C709.9 495.8 710.2 497.4 709.7 498.5C709.2 499.6 707.5 501 705.9 501.6C704.2 502.2 701.7 502.2 699.8 502C697.9 501.8 695.9 501 694.4 500.4C692.9 499.8 691.2 498.5 690.6 498.1" stroke="#0a0a0a" stroke-width="2.9"/>
<path d="M658 432.5C667.5 431.9 695.5 430 715 428.8C734.5 427.5 765 425.6 775 425" stroke="#0a0a0a" stroke-width="2.9"/>
<path d="M775 425 L775 477.5" stroke="#0a0a0a" stroke-width="2.9"/>
<path d="M751.2 481.2 L775 477.5 L810 476.2" stroke="#0a0a0a" stroke-width="2.9"/>
<path d="M755 496.2 L803.8 493.8" stroke="#0a0a0a" stroke-width="2.9"/>
<path d="M781.2 493.8 L786.2 557.5" stroke="#0a0a0a" stroke-width="2.9"/>
<path d="M845.8 460C845.2 459.6 843.9 458.4 842.5 457.9C841.1 457.4 839.3 456.8 837.5 457.1C835.7 457.4 833.5 458.2 831.7 459.6C829.9 461.1 828 463.2 826.7 465.8C825.4 468.4 824.1 472.1 823.8 475C823.4 477.9 823.7 480.7 824.6 483.3C825.5 485.9 827.2 489 829.2 490.8C831.2 492.6 834.4 493.6 836.7 494.2C839.1 494.8 841.5 494.4 843.3 494.2C845.1 494 846.8 493.1 847.5 492.9" stroke="#0a0a0a" stroke-width="2.9"/>
<path d="M866.2 484.2C865.8 483.9 864.5 482.5 863.3 482.1C862.1 481.7 860.7 481.4 859.2 481.7C857.8 482 855.4 483.1 854.6 484.2C853.8 485.3 853.6 487.1 854.2 488.3C854.8 489.6 856.6 490.7 858.3 491.7C860 492.7 862.9 493.1 864.2 494.2C865.5 495.3 866.4 496.9 866.2 498.3C866.1 499.7 864.8 501.5 863.3 502.5C861.8 503.5 860 504.1 857.5 504.2C855 504.3 849.8 503.1 848.3 502.9" stroke="#0a0a0a" stroke-width="2.9"/>
<path d="M655 278.3C662.4 278.2 677.1 278.6 699.6 277.5C722.1 276.4 770.8 272.6 790 271.6C809.2 270.6 808.2 271.6 815 271.2C821.8 270.9 827.9 269.9 830.5 269.6" stroke="#0a0a0a" stroke-width="2.9"/>
<path d="M827.5 244.6C827.9 245.2 829.3 244.1 829.6 248.3C829.9 252.5 829.5 262.4 829.4 270C829.3 277.6 829.2 290.2 829.2 294.2" stroke="#0a0a0a" stroke-width="2.9"/>
<path d="M841.2 247.5 L841.2 290.8" stroke="#0a0a0a" stroke-width="2.9"/>
<path d="M838.8 269.6C842.3 269.4 851.5 268.9 860 268.3C868.5 267.7 873.6 266.6 890 265.8C906.4 265 926.4 265.4 958.3 263.6C990.1 261.9 1060.6 256.7 1081.1 255.3" stroke="#0a0a0a" stroke-width="2.9"/>
<path d="M858.3 195.1C857.8 194.7 856.9 193.1 855.6 192.6C854.3 192.1 852.7 192.1 850.7 192.3C848.7 192.5 846.1 192.8 843.8 194C841.4 195.2 838.7 197.4 836.8 199.6C834.9 201.8 833.3 204.5 832.6 207.2C831.9 209.9 831.9 213.2 832.6 215.6C833.3 218 834.9 220.5 836.8 221.8C838.7 223.1 841.4 223.4 843.8 223.5C846.1 223.6 849 223 850.7 222.5C852.4 222 853.6 220.8 854.2 220.4" stroke="#0a0a0a" stroke-width="2.9"/>
<path d="M864.6 207.9C864.1 207.7 863 206.9 861.8 206.9C860.6 206.9 858.9 206.9 857.6 207.9C856.3 208.9 854.8 211 854.2 212.8C853.6 214.7 853.6 217.3 854.2 219C854.8 220.7 856 222.4 857.6 223.2C859.2 224 862 223.9 863.9 223.9C865.8 223.9 867.9 223.3 868.8 223.2" stroke="#0a0a0a" stroke-width="2.9"/>
<path d="M874.3 217C874.5 216.3 874.8 214 875.7 212.8C876.6 211.6 878.4 210.3 879.9 210C881.4 209.7 883.5 209.9 884.7 210.7C885.9 211.5 887.1 213.3 887.2 214.9C887.3 216.5 886.5 218.7 885.4 220.4C884.3 222.1 882.2 223.8 880.6 225.3C879 226.8 876.5 228.7 875.7 229.4" stroke="#0a0a0a" stroke-width="2.9"/>
<path d="M875.7 229.4C876.5 229.2 877.6 228.6 880.6 228.4C883.6 228.2 891.6 228.4 893.8 228.4" stroke="#0a0a0a" stroke-width="2.9"/>
<ellipse cx="700.1" cy="277.4" rx="4.8" ry="3.9" transform="rotate(-35 700.1 277.4)" fill="#d21a31"/>
<path d="M700 278 L701.9 321.2" stroke="#d21a31" stroke-width="2.7"/>
<path d="M685 324.1 L720 321.2" stroke="#d21a31" stroke-width="2.7"/>
<path d="M683.5 335.8 L717 332.3" stroke="#d21a31" stroke-width="2.7"/>
<path d="M701.9 334.3 L703 369.3" stroke="#d21a31" stroke-width="2.7"/>
<path d="M685 372.2 L715.6 368.4" stroke="#d21a31" stroke-width="2.7"/>
<path d="M689.4 373.7 L685 382.4" stroke="#d21a31" stroke-width="2.7"/>
<path d="M695.2 373 L690.8 382.4" stroke="#d21a31" stroke-width="2.7"/>
<path d="M702.5 372.2 L698.1 383.9" stroke="#d21a31" stroke-width="2.7"/>
<path d="M741.6 306.2C741.4 305.9 741.4 304.6 740.6 304.1C739.8 303.6 738.5 302.7 736.9 303.1C735.3 303.5 732.9 304.7 731.2 306.2C729.6 307.8 727.6 310.4 726.9 312.5C726.2 314.6 726.4 316.9 726.9 318.8C727.4 320.6 728.8 322.7 730 323.8C731.2 324.8 733 324.9 734.4 325C735.8 325.1 737.5 324.5 738.1 324.4" stroke="#d21a31" stroke-width="2.7"/>
<path d="M746.9 323.8C746.3 323.6 744.4 322.6 743.1 323.1C741.9 323.6 740 325.4 739.4 326.9C738.8 328.4 738.8 330.8 739.4 331.9C740 333 741.6 333.9 743.1 333.8C744.6 333.6 746.6 332.3 748.1 331.2C749.6 330.2 751.3 328.1 751.9 327.5" stroke="#d21a31" stroke-width="2.7"/>
<path d="M750 311.6C749.9 313.1 749.3 317.5 749.1 320.6C748.9 323.7 748.8 328.4 748.8 330" stroke="#d21a31" stroke-width="2.7"/>
<path d="M757.8 309.7 L757.5 335" stroke="#d21a31" stroke-width="2.7"/>
<path d="M758.1 326.2C758.6 325.7 760 323.6 761.2 323.1C762.5 322.6 764.6 322.4 765.6 323.1C766.6 323.8 767.6 325.8 767.5 327.5C767.4 329.2 766.2 331.9 765 333.1C763.8 334.4 760.8 334.7 760 335" stroke="#d21a31" stroke-width="2.7"/>
<ellipse cx="789.3" cy="272" rx="5.3" ry="4.3" transform="rotate(-35 789.4 271.8)" fill="#d21a31"/>
<path d="M790 273 L792.9 325.6" stroke="#d21a31" stroke-width="2.7"/>
<path d="M781.2 331.4 L814.7 322.7" stroke="#d21a31" stroke-width="2.7"/>
<path d="M779.7 343.1 L816.2 337.2" stroke="#d21a31" stroke-width="2.7"/>
<path d="M797.2 341.6 L798.7 379.5" stroke="#d21a31" stroke-width="2.7"/>
<path d="M775.4 383.9 L817.6 377.5" stroke="#d21a31" stroke-width="2.7"/>
<path d="M782.7 383.9 L778.3 392.6" stroke="#d21a31" stroke-width="2.7"/>
<path d="M790 383.9 L785.6 394" stroke="#d21a31" stroke-width="2.7"/>
<path d="M797.2 382.4 L794.3 392.6" stroke="#d21a31" stroke-width="2.7"/>
<path d="M804.5 381 L803 391.2" stroke="#d21a31" stroke-width="2.7"/>
<path d="M848.3 316.5C847.9 316.1 847.3 314.4 846 313.8C844.7 313.2 842.6 312.6 840.6 313C838.6 313.4 835.8 314.6 833.8 316.5C831.7 318.4 829.3 321.6 828.4 324.1C827.5 326.6 827.8 329.4 828.4 331.7C829 334 830.4 336.4 832.2 337.8C834 339.2 836.9 339.9 839.1 339.8C841.3 339.7 844.2 337.6 845.2 337.1" stroke="#d21a31" stroke-width="2.7"/>
<path d="M852.8 331C852.7 332.4 852 336.8 852.1 339.4C852.2 342 852.7 345.2 853.6 346.6C854.5 348 855.9 348.4 857.4 347.8C858.9 347.2 861.4 345.2 862.4 343.2C863.4 341.2 863.2 335.9 863.5 335.6C863.8 335.4 863.6 340.2 864.3 341.7C864.9 343.2 866.1 344.8 867.4 344.7C868.7 344.6 871.1 342.4 872 340.9C872.9 339.4 873 337 872.7 335.6C872.4 334.2 870.8 333 870.4 332.5" stroke="#d21a31" stroke-width="2.7"/>
<ellipse cx="878.1" cy="347.8" rx="4.6" ry="4.9" transform="rotate(30 878.1 347.8)" stroke="#d21a31" stroke-width="2.8"/>
<ellipse cx="958" cy="264.4" rx="5.3" ry="5.4" fill="#0a0a0a" stroke="none"/>
<path d="M958.9 265L960.3 312.6" stroke="#0a0a0a" stroke-width="2.9"/>
<path d="M960.3 312.6L959.8 314.8Q959.3 317 957 318.1L948 322.2Q945.7 323.3 948.1 323.8L971.5 328.7Q973.9 329.2 971.5 329.7L948.1 335Q945.7 335.5 948.2 335.9L972.3 339.9Q974.8 340.3 972.4 341.1L947.1 349.2Q944.7 350 947.2 350.3L976.2 354.1Q978.7 354.4 976.3 355.1L960.8 359.3" stroke="#0a0a0a" stroke-width="2.9"/>
<path d="M960.8 359.3C960.8 361.1 960.5 360.7 960.5 370C960.5 379.3 961 407.5 961.1 415" stroke="#0a0a0a" stroke-width="2.9"/>
<path d="M932.5 415.6 L999.2 414.4" stroke="#0a0a0a" stroke-width="2.9"/>
<path d="M945 417.8 L939.4 434.4" stroke="#0a0a0a" stroke-width="2.9"/>
<path d="M961.7 417 L956.1 433" stroke="#0a0a0a" stroke-width="2.9"/>
<path d="M975.6 417 L968.6 434.4" stroke="#0a0a0a" stroke-width="2.9"/>
<path d="M992.2 417 L986.7 433" stroke="#0a0a0a" stroke-width="2.9"/>
<path d="M990.4 326.2 L988.9 347.6" stroke="#0a0a0a" stroke-width="2.9"/>
<path d="M989.4 324.8C990.4 323.8 993.2 320 995.3 319C997.4 318 1000.6 318.1 1002.1 319C1003.6 319.9 1004.7 322.3 1004.5 324.3C1004.3 326.3 1003 329.2 1001.1 331.1C999.2 333 994.6 334.8 993.3 335.5" stroke="#0a0a0a" stroke-width="2.9"/>
<path d="M993.3 336 L1003 348.1" stroke="#0a0a0a" stroke-width="2.9"/>
<path d="M1012.3 340.3 L1007.4 366.6 L1028.8 361.2" stroke="#0a0a0a" stroke-width="2.9"/>
<ellipse cx="1083.4" cy="260" rx="6.3" ry="5.6" transform="rotate(-25 1083.4 260)" stroke="#0a0a0a" stroke-width="3"/>
<path d="M1068.6 284.4 L1104.7 281.1" stroke="#0a0a0a" stroke-width="2.9"/>
<path d="M1082.5 271.9 L1081.1 295.6" stroke="#0a0a0a" stroke-width="2.9"/>
<path d="M1082.1 312.1 L1087.1 328.8 L1095.6 310.8" stroke="#0a0a0a" stroke-width="2.9"/>
<ellipse cx="1101" cy="328.4" rx="3.3" ry="5" transform="rotate(20 1101 328.4)" stroke="#0a0a0a" stroke-width="3"/>
<ellipse cx="1117.3" cy="328.9" rx="4.6" ry="6" transform="rotate(20 1117.3 328.9)" stroke="#0a0a0a" stroke-width="3"/>
<path d="M1136.3 301.8C1136.4 303.7 1137.4 307.5 1136.7 313C1136 318.5 1132.2 330.8 1132.2 334.7C1132.2 338.6 1134.9 337 1136.7 336.1C1138.5 335.2 1142 330.4 1143 329.3" stroke="#0a0a0a" stroke-width="2.9"/>
<path d="M1128.6 318 L1157.5 311.2" stroke="#0a0a0a" stroke-width="2.9"/>
<path d="M1069.9 348.7 L1097.9 350.5" stroke="#0a0a0a" stroke-width="2.9"/>
<circle cx="1082.6" cy="374.3" r="5.2" stroke="#0a0a0a" stroke-width="2.9"/>
<path d="M1083.6 376.8C1083.6 379 1083.4 385.2 1083.4 390C1083.5 394.8 1083.8 402.8 1083.9 405.3" stroke="#0a0a0a" stroke-width="2.9"/>
<path d="M1050.6 415 L1120 406.7" stroke="#0a0a0a" stroke-width="2.9"/>
<path d="M1067.2 413.6 L1060.3 426.1" stroke="#0a0a0a" stroke-width="2.9"/>
<path d="M1083.9 412.2 L1076.9 428.9" stroke="#0a0a0a" stroke-width="2.9"/>
<path d="M1103.3 410 L1096.4 428.9" stroke="#0a0a0a" stroke-width="2.9"/>
<path d="M1167.9 328.8C1166.9 329.4 1163.9 330.3 1161.7 332.5C1159.5 334.7 1156.5 338.4 1155 341.7C1153.5 345 1152.4 349.2 1152.5 352.5C1152.6 355.8 1154.3 359.3 1155.8 361.7C1157.3 364.1 1160 365.9 1161.7 366.7C1163.4 367.5 1165.5 366.3 1166.2 366.2" stroke="#1458a2" stroke-width="2.7"/>
<path d="M1165.4 355.8 L1174.2 342.5 L1182.9 330 L1185 344.2 L1185.8 358.8" stroke="#1458a2" stroke-width="2.7"/>
<path d="M1171.7 344.2 L1187.9 342.1" stroke="#1458a2" stroke-width="2.7"/>
<path d="M1215.4 334.2C1214.2 334.1 1210.6 333.3 1208.3 333.8C1206 334.2 1203.4 335.4 1201.7 337.1C1200 338.8 1198.5 341.9 1198.3 344.2C1198.1 346.5 1199.4 349.3 1200.8 350.8C1202.2 352.3 1204.5 353.2 1206.7 353.3C1208.9 353.4 1213 351.6 1214.2 351.2" stroke="#1458a2" stroke-width="2.7"/>
<path d="M1217.9 321.7C1218.8 322.9 1221.8 326.1 1223.3 329.2C1224.8 332.2 1226.7 336.2 1227.1 340C1227.5 343.8 1226.7 348.4 1225.8 351.7C1224.9 355 1223.4 357.6 1221.7 360C1220 362.4 1216.5 364.8 1215.4 365.8" stroke="#1458a2" stroke-width="2.7"/>
<path d="M157.1 426.3C159.9 426.4 163.1 426.3 165.8 427.8C168.6 429.3 171.4 432.3 173.6 435.5C175.8 438.7 177.9 443.1 179 447C180.1 450.9 180.3 455.4 179.9 458.9C179.5 462.4 178.5 465.1 176.5 468C174.5 470.9 171.4 474.5 168 476.5C164.6 478.5 159.8 479.7 156.1 479.8C152.4 479.9 148.8 478.4 146 477C143.2 475.6 141.5 473.8 139.6 471.5C137.7 469.2 135.5 466.2 134.5 463C133.5 459.8 133.3 455.4 133.7 452C134.1 448.6 135.2 445.8 136.7 442.4C138.2 439 140.4 434.2 142.5 431.7C144.6 429.2 146.6 428.4 149 427.5C151.4 426.6 154.3 426.2 157.1 426.3Z" stroke="#0a0a0a" stroke-width="3"/>
<path d="M146.9 463.7C146.7 462.9 145.7 460.8 145.9 458.9C146.1 457 147.1 453.8 148.3 452.1C149.5 450.4 151.4 448.9 153.2 448.7C155 448.5 157.2 450.1 159 451.1C160.8 452.2 162.3 454.8 163.9 455C165.5 455.2 167.7 453.7 168.7 452.1C169.7 450.5 170.2 447.2 169.7 445.3C169.2 443.4 166.5 441.2 165.8 440.4" stroke="#0a0a0a" stroke-width="2.9"/>
<path d="M160 435.5C160.1 432.9 160.5 425.9 160.3 420C160.1 414.1 159.3 408.7 159 400C158.7 391.3 158.8 373.3 158.8 368" stroke="#0a0a0a" stroke-width="3.2"/>
<path d="M158.8 368.2 L191.7 368.2" stroke="#0a0a0a" stroke-width="2.9"/>
<path d="M191.7 368.2 L193 368.1 L192.6 351.8 L206.9 381.3 L207.9 357.4 L220.1 380.6 L222.5 351.8 L230.5 379.9" stroke="#0a0a0a" stroke-width="2.9"/>
<path d="M230.5 379.9C230.9 377.9 232 370.3 232.9 367.8C233.8 365.3 233.7 365.2 235.7 364.7C237.7 364.2 242.1 364.5 245 364.7C247.9 364.9 247.2 366.1 253 366C258.8 365.9 273.6 364.3 280 363.9C286.4 363.5 289.2 363.8 291.7 363.4C294.2 363 294.4 361.9 294.9 361.6" stroke="#0a0a0a" stroke-width="2.9"/>
<path d="M292.6 337.2C293.1 339 294.9 344 295.4 348.1C295.9 352.2 295.4 357.1 295.8 361.6C296.2 366.1 297.7 371.3 298.1 375.2C298.5 379.1 298.5 383 298.1 385.1C297.7 387.2 296.2 387.4 295.8 387.8" stroke="#0a0a0a" stroke-width="2.9"/>
<path d="M310.3 339.5C310.6 340.6 311.8 338.4 312.1 346.3C312.4 354.2 312.1 380.1 312.1 386.9" stroke="#0a0a0a" stroke-width="2.9"/>
<path d="M314.3 363C325.2 362.7 362.6 361.8 380 361.2C397.4 360.7 404.6 359.7 418.8 359.5C432.9 359.3 451.3 359.3 465 360C478.7 360.7 495 363.1 501 363.8" stroke="#0a0a0a" stroke-width="2.9"/>
<path d="M157.1 480.3 L157.6 522.9" stroke="#0a0a0a" stroke-width="2.9"/>
<path d="M130.8 522.1C131.4 522.4 129.8 523.5 134.2 523.8C138.6 524 149.4 523.6 157.5 523.3C165.6 523 178.3 522.3 182.5 522.1" stroke="#0a0a0a" stroke-width="2.9"/>
<path d="M141.2 525 L137.9 539.2" stroke="#0a0a0a" stroke-width="2.9"/>
<path d="M153.8 525.4 L149.2 538.8" stroke="#0a0a0a" stroke-width="2.9"/>
<path d="M165.8 528.8 L162.9 536.7" stroke="#0a0a0a" stroke-width="2.9"/>
<path d="M174.6 527.1 L168.3 544.2" stroke="#0a0a0a" stroke-width="2.9"/>
<path d="M116.8 402.8 L141.3 401.9" stroke="#0a0a0a" stroke-width="2.9"/>
<path d="M130.6 388.1 L130.6 421.1" stroke="#0a0a0a" stroke-width="2.9"/>
<path d="M117.1 492.5 L145 486.2" stroke="#0a0a0a" stroke-width="2.9"/>
<path d="M71 420.3C71.6 421.1 72.9 421.9 74.6 424.9C76.3 427.8 78.9 433.6 81 438C83.1 442.4 86.2 448.8 87.3 451" stroke="#0a0a0a" stroke-width="2.9"/>
<path d="M87.3 451 L92.7 421.2" stroke="#0a0a0a" stroke-width="2.9"/>
<path d="M108 441.1C106.8 440.7 103 438.1 100.8 438.4C98.5 438.7 95.1 441.1 94.5 442.9C93.9 444.7 95.2 447.5 97.2 449.2C99.2 450.9 104.2 451.4 106.2 452.8C108.2 454.2 109.2 455.8 108.9 457.3C108.6 458.8 107.1 461.6 104.4 461.9C101.7 462.2 94.7 459.6 92.7 459.2" stroke="#0a0a0a" stroke-width="2.9"/>
<path d="M38.5 474.5C37.9 475.9 35.8 479.1 34.9 482.6C34 486.1 33.1 490.8 33.1 495.3C33.1 499.8 33.5 505.5 34.9 509.7C36.2 513.9 38.6 517.8 41.2 520.5C43.8 523.2 47 525.1 50.3 525.9C53.6 526.6 59.3 525.1 61.1 525" stroke="#1458a2" stroke-width="2.7"/>
<path d="M51.2 513.3C52 511.2 54.4 505.5 55.7 500.7C57.1 495.9 58.1 484.7 59.3 484.4C60.5 484.1 61.9 494.1 62.9 498.9C63.9 503.7 65.1 510.9 65.6 513.3" stroke="#1458a2" stroke-width="2.7"/>
<path d="M53.9 503.4 L66.5 502.5" stroke="#1458a2" stroke-width="2.7"/>
<path d="M86.4 487.1C85.5 486.8 83 484.9 81 485.3C79 485.8 76 487.5 74.6 489.8C73.2 492.1 72.5 496 72.8 498.9C73.1 501.8 74.7 505.2 76.4 507C78.1 508.8 81 509.7 82.8 509.7C84.6 509.7 86.5 507.4 87.3 507" stroke="#1458a2" stroke-width="2.7"/>
<path d="M89.1 474.5C90.4 475.6 95 477.7 97.2 480.8C99.5 483.9 101.8 489.2 102.6 493.4C103.3 497.6 102.6 502.2 101.7 506.1C100.8 510 99.2 514 97.2 516.9C95.2 519.8 91.2 522.2 90 523.2" stroke="#1458a2" stroke-width="2.7"/>
<path d="M183.5 275.9C183.7 277.4 184.2 281.8 184.5 285C184.8 288.2 185 290.6 185.1 295C185.2 299.4 185.1 308.8 185.1 311.5" stroke="#0a0a0a" stroke-width="2.9"/>
<path d="M181.2 275.1C182 274.4 184.1 271.7 185.9 270.8C187.8 269.9 190.3 269.4 192.3 269.6C194.3 269.8 196.6 270.6 197.8 272C199 273.4 199.7 276.3 199.4 278.3C199.1 280.3 197.6 282.4 196.2 283.8C194.8 285.2 192.3 286.3 190.7 287C189.1 287.7 187.4 287.7 186.7 287.8" stroke="#0a0a0a" stroke-width="2.9"/>
<path d="M188.3 287.8C189.2 289.1 192 292 193.8 295.7C195.7 299.4 198.5 307.6 199.4 310" stroke="#0a0a0a" stroke-width="2.9"/>
<path d="M209.3 295.3C208.7 295 207 293.4 205.7 293.3C204.4 293.2 202.5 293.6 201.8 294.5C201 295.4 200.5 297.5 201 298.9C201.5 300.3 203.5 301.5 204.9 302.8C206.3 304.1 208.5 305.4 209.3 306.8C210.1 308.2 210.2 310.2 209.7 311.5C209.2 312.8 207.8 314.3 206.5 314.7C205.2 315.1 202.5 314 201.8 313.9" stroke="#0a0a0a" stroke-width="2.9"/>
<path d="M218 299.7 L218 313.1" stroke="#0a0a0a" stroke-width="2.9"/>
<ellipse cx="218.7" cy="277.3" rx="3.2" ry="4.3" transform="rotate(25 218.7 277.3)" stroke="#0a0a0a" stroke-width="2.8"/>
<path d="M238.2 294.5C237.4 294.4 234.8 293.5 233.4 294.1C232 294.7 230.2 296.2 229.5 298.1C228.8 300 228.8 303.5 229.5 305.2C230.2 306.9 231.8 308.4 233.4 308.4C235 308.4 238.1 305.7 239 305.2" stroke="#0a0a0a" stroke-width="2.9"/>
<path d="M240.5 294.9C240.6 297 241 303.9 240.9 307.6C240.8 311.3 240.8 314.9 239.8 317.1C238.8 319.3 237.4 320.2 235 321C232.6 321.8 228.4 321.9 225.5 321.8C222.6 321.7 219.7 321 217.6 320.3C215.5 319.6 213.6 318.3 212.8 317.9" stroke="#0a0a0a" stroke-width="2.9"/>
<path d="M320.9 279.2C320.5 278.7 319.7 276.8 318.3 276C316.9 275.2 314.8 274.5 312.6 274.5C310.4 274.5 307.6 274.9 305.3 276C303 277.1 300.7 278.7 298.8 281C296.9 283.3 295 286.7 294.1 289.7C293.2 292.7 293 296 293.4 299.1C293.8 302.2 294.9 306.4 296.7 308.5C298.4 310.6 301.6 311 303.9 311.4C306.2 311.8 308.5 311.2 310.4 310.6C312.3 310 314.3 308.2 315.1 307.7" stroke="#0a0a0a" stroke-width="2.9"/>
<path d="M333.5 295.8C333 295.4 331.9 294.1 330.6 293.7C329.3 293.3 327.2 293 325.6 293.3C324 293.6 322.2 294.3 321.2 295.5C320.2 296.7 319.6 298.6 319.4 300.5C319.2 302.4 319.1 305.2 319.8 307C320.5 308.8 321.7 310.5 323.4 311.4C325.1 312.2 327.6 312.2 329.9 312.1C332.2 312 335.4 311.1 337.1 310.6C338.9 310.1 339.8 309.4 340.4 309.2" stroke="#0a0a0a" stroke-width="2.9"/>
<path d="M347.6 298.7 L349.1 299.4 L349.4 315.7" stroke="#0a0a0a" stroke-width="2.9"/>
<ellipse cx="419.4" cy="359.7" rx="4.2" ry="6.6" transform="rotate(12 419.4 359.7)" fill="#d21a31"/>
<path d="M418.8 361.2 L419.5 420" stroke="#d21a31" stroke-width="2.7"/>
<path d="M400 422.5 L443.8 418.8" stroke="#d21a31" stroke-width="2.7"/>
<path d="M402.5 441.2 L437.5 435" stroke="#d21a31" stroke-width="2.7"/>
<path d="M420 437.5 L422.5 492.5" stroke="#d21a31" stroke-width="2.7"/>
<path d="M401.8 495.3 L421.9 492.9 L444.9 491.2" stroke="#d21a31" stroke-width="2.7"/>
<path d="M410.8 496 L407.4 507.8" stroke="#d21a31" stroke-width="2.7"/>
<path d="M419.2 496.4 L416.4 506.1" stroke="#d21a31" stroke-width="2.7"/>
<path d="M427.8 495 L425.4 507.8" stroke="#d21a31" stroke-width="2.7"/>
<path d="M433.1 498.5 L430.3 511.7" stroke="#d21a31" stroke-width="2.7"/>
<path d="M359.3 408.6C358.6 408.3 356.8 406.9 354.8 406.8C352.9 406.7 350.3 406.7 347.6 408.1C344.9 409.5 341.1 412.2 338.6 415.4C336.1 418.6 333.6 423.4 332.7 427.1C331.8 430.9 332.1 434.7 333.1 437.9C334.1 441.1 336.5 444.6 338.6 446.1C340.7 447.6 343.7 447.3 345.8 447C347.9 446.7 350.3 444.8 351.2 444.3" stroke="#d21a31" stroke-width="2.7"/>
<path d="M355.7 434.3C355.8 436.1 355.8 442.6 356.2 445.2C356.6 447.8 357.4 449.4 358.4 449.7C359.4 450 361.2 448.5 362 447C362.8 445.5 362.9 440.6 363.4 440.7C363.8 440.8 363.9 446.1 364.7 447.9C365.5 449.7 367.1 451.5 368.4 451.5C369.7 451.5 371.6 449.7 372.4 447.9C373.1 446.1 373 442.8 372.9 440.7C372.8 438.6 371.7 436.1 371.5 435.2" stroke="#d21a31" stroke-width="2.7"/>
<ellipse cx="381.9" cy="440.4" rx="2.4" ry="3.3" fill="#d21a31" stroke="none"/>
<path d="M382.4 449.2C382.6 450.2 383.3 453 383.6 455C383.9 457 384.1 460.3 384.2 461.4" stroke="#d21a31" stroke-width="2.7"/>
<path d="M217 645.8C215.4 645.1 211 641.6 207.2 641.4C203.4 641.2 197.6 642 194.1 644.7C190.6 647.4 187.5 653.2 186.4 657.8C185.3 662.3 185.8 668.4 187.5 672C189.2 675.6 192.7 678.1 196.3 679.7C200 681.4 207.2 681.5 209.4 681.9" stroke="#0a0a0a" stroke-width="2.9"/>
<path d="M232.3 668.8C230.9 668.6 226 666.8 223.6 667.7C221.2 668.6 218.6 671.8 218.1 674.2C217.6 676.6 218.7 680.1 220.3 681.9C222 683.7 225.6 685 228 685.2C230.4 685.4 233.4 683.4 234.5 683" stroke="#0a0a0a" stroke-width="2.9"/>
<path d="M237.8 677.5C238.4 677.1 240.4 671.1 241.1 675.3C241.8 679.5 241.7 698.1 241.8 702.7" stroke="#0a0a0a" stroke-width="2.9"/>
<ellipse cx="261.9" cy="682.3" rx="3.3" ry="3.3" fill="#0a0a0a" stroke="none"/>
<path d="M264 683C264.6 684.2 267.1 686.7 267.5 690C267.9 693.3 267.8 699.1 266.3 702.7C264.8 706.3 259.9 710 258.6 711.4" stroke="#0a0a0a" stroke-width="2.9"/>
<path d="M312.2 645.8C310.4 645.8 304.6 644.5 301.3 645.8C298 647.1 294.1 649.6 292.5 653.4C290.9 657.2 290.7 664.4 291.4 668.8C292.1 673.2 294.5 677.5 296.9 679.7C299.3 681.9 304.2 681.5 305.6 681.9" stroke="#0a0a0a" stroke-width="2.9"/>
<path d="M321 672C319.7 671.8 315.1 670 313.3 670.9C311.5 671.8 310 675.1 310 677.5C310 679.9 311.1 683.6 313.3 685.2C315.5 686.8 321.5 686.9 323.1 687.3" stroke="#0a0a0a" stroke-width="2.9"/>
<path d="M326.4 679.7C327.3 679.2 329.9 676.4 331.9 676.4C333.9 676.4 337.8 677.9 338.5 679.7C339.2 681.5 338.1 684.6 336.3 687.3C334.5 690 329 694.6 327.5 696.1" stroke="#0a0a0a" stroke-width="2.9"/>
<path d="M327.5 696.1 L341.7 695" stroke="#0a0a0a" stroke-width="2.9"/>
<ellipse cx="357" cy="684.1" rx="3.3" ry="3.3" fill="#0a0a0a" stroke="none"/>
<path d="M359 685C359.5 686.2 361.8 689.5 362 692C362.2 694.5 361.6 696.8 360 700C358.4 703.2 353.9 709.5 352.7 711.4" stroke="#0a0a0a" stroke-width="2.9"/>
<path d="M400.8 645.8C399 645.6 393.2 643.4 389.9 644.7C386.6 646 382.9 649.4 381.1 653.4C379.3 657.4 378.5 664 378.9 668.8C379.3 673.5 380.9 678.8 383.3 681.9C385.7 685 390.4 686.6 393.1 687.3C395.8 688 398.6 686.5 399.7 686.3" stroke="#0a0a0a" stroke-width="2.9"/>
<path d="M418.3 670.9C416.9 670.5 411.8 668.2 409.6 668.8C407.4 669.3 404.7 672.2 405.2 674.2C405.7 676.2 410.4 678.6 412.8 680.8C415.2 683 419.2 685.3 419.4 687.3C419.6 689.3 416.4 691.9 413.9 692.8C411.3 693.7 405.7 692.8 404.1 692.8" stroke="#0a0a0a" stroke-width="2.9"/>
<ellipse cx="465.8" cy="670.5" rx="2.2" ry="2.6" fill="#0a0a0a" stroke="none"/>
<ellipse cx="466.9" cy="686" rx="2.2" ry="2.6" fill="#0a0a0a" stroke="none"/>
<path d="M524.9 651.1C523.7 650.6 519.8 647.5 517.5 647.9C515.2 648.2 512.1 650.9 511.2 653.2C510.3 655.5 510.8 659.3 512.2 661.6C513.6 663.9 519.8 665.1 519.6 666.9C519.4 668.7 512.8 669.6 511.2 672.2C509.6 674.8 509.1 679.5 510.1 682.7C511.2 685.9 514.1 690.3 517.5 691.2C520.9 692.1 528.1 688.5 530.2 688" stroke="#0a0a0a" stroke-width="2.9"/>
<path d="M531.2 670.1C531.9 670.5 533.5 669.9 535.4 672.2C537.3 674.5 540.9 681.7 542.8 683.8C544.7 685.9 546.3 684.6 547 684.8" stroke="#0a0a0a" stroke-width="2.9"/>
<path d="M546 669 L534.4 685.9" stroke="#0a0a0a" stroke-width="2.9"/>
<path d="M566 644.8 L565 684.8" stroke="#0a0a0a" stroke-width="2.9"/>
<path d="M554.4 664.8 L576.6 661.6" stroke="#0a0a0a" stroke-width="2.9"/>
<path d="M579.7 677.5C581.3 677 587.8 675.9 589.2 674.3C590.6 672.7 589.4 669 588.2 668C587 667 583.6 666.8 581.8 668C580 669.2 578 672.8 577.6 675.3C577.2 677.8 577.8 681.3 579.7 682.7C581.6 684.1 587.6 683.6 589.2 683.8" stroke="#0a0a0a" stroke-width="2.9"/>
<path d="M593.4 668C594.3 668.9 597.5 670.9 598.7 673.2C599.9 675.5 601.1 679.9 600.8 681.7C600.4 683.5 597.5 684.5 596.6 683.8C595.7 683.1 594.3 680.1 595.5 677.5C596.7 674.9 601.4 669.8 604 668C606.6 666.2 610.2 667.1 611.4 666.9" stroke="#0a0a0a" stroke-width="2.9"/>
<path d="M615.6 669 L616.6 683.8" stroke="#0a0a0a" stroke-width="2.9"/>
<path d="M616.6 675C617.7 673.8 620.9 668.8 623 668C625.1 667.2 628.1 667.6 629.3 670.1C630.5 672.6 630.1 680.6 630.3 682.7" stroke="#0a0a0a" stroke-width="2.9"/>
<path d="M645.1 671.1C643.9 670.9 639.5 668.9 637.7 670.1C636 671.3 634.4 676.2 634.6 678.5C634.8 680.8 637 683.4 638.8 683.8C640.5 684.1 643.7 682.9 645.1 680.6C646.5 678.3 646.9 669.8 647.2 670.1C647.6 670.5 646.7 680.4 647.2 682.7C647.7 685 649.9 683.6 650.4 683.8" stroke="#0a0a0a" stroke-width="2.9"/>
<path d="M663 646.9C662.5 649.7 660.8 658.1 659.9 663.7C659 669.3 657.6 677.1 657.8 680.6C658 684.1 659.7 684.4 660.9 684.8C662.1 685.1 664.4 683.1 665.1 682.7" stroke="#0a0a0a" stroke-width="2.9"/>
<path d="M683.1 646.9C682.6 649.7 680.8 658.4 679.9 663.7C679 669 677.8 675 677.8 678.5C677.8 682 678.7 684.1 679.9 684.8C681.1 685.5 684.3 683.1 685.2 682.7" stroke="#0a0a0a" stroke-width="2.9"/>
<path d="M690.5 669C690.5 670.9 689.8 678 690.5 680.6C691.2 683.2 692.8 685.1 694.7 684.8C696.6 684.4 700.8 679.5 702 678.5" stroke="#0a0a0a" stroke-width="2.9"/>
<path d="M703.1 669C702.9 672.4 702.5 683 702 689.1C701.5 695.2 701.6 702.2 700 705.9C698.4 709.6 696.6 710.1 692.6 711.2C688.6 712.3 681 713.7 675.7 712.3C670.4 710.9 663.4 704.4 660.9 702.8" stroke="#0a0a0a" stroke-width="2.9"/>
<path d="M757.9 665C756.7 664.9 752.8 662.9 750.7 664.1C748.6 665.3 745.9 669.4 745.3 672.2C744.7 675.1 745.6 679.2 747.1 681.2C748.6 683.2 752.3 683.8 754.3 683.9C756.2 684 758 682.4 758.8 682.1" stroke="#0a0a0a" stroke-width="2.9"/>
<ellipse cx="767.7" cy="673.1" rx="6.3" ry="9" stroke="#0a0a0a" stroke-width="2.9"/>
<path d="M782.1 665.9 L783 684.8" stroke="#0a0a0a" stroke-width="2.9"/>
<path d="M783 671C783.8 670.1 785.7 666.9 787.5 665.9C789.3 664.9 792.4 664.1 793.8 665C795.1 665.9 795.1 668.6 795.6 671.3C796.1 674 796.4 679.6 796.5 681.2" stroke="#0a0a0a" stroke-width="2.9"/>
<path d="M803.7 665.9 L803.7 683" stroke="#0a0a0a" stroke-width="2.9"/>
<path d="M803.7 669.5C804.3 668.8 805.6 665.9 807.3 665C808.9 664.1 812.1 663.1 813.6 664.1C815.1 665.1 815.7 668.6 816.3 671.3C816.9 674 817.1 678.8 817.2 680.3" stroke="#0a0a0a" stroke-width="2.9"/>
<path d="M818 673.1C819.8 672.6 827.1 671.8 828.8 670.4C830.4 669 829.1 665.9 827.9 665C826.7 664.1 823.2 663.8 821.6 665C820 666.2 818.1 669.5 818 672.2C817.9 674.9 818.6 679.6 820.7 681.2C822.8 682.9 829 682 830.6 682.1" stroke="#0a0a0a" stroke-width="2.9"/>
<path d="M846.8 665C845.6 664.9 841.7 663.2 839.6 664.1C837.5 665 834.8 667.9 834.2 670.4C833.6 672.9 834.5 677.3 836 679.4C837.5 681.5 841 682.7 843.2 683C845.5 683.3 848.5 681.5 849.5 681.2" stroke="#0a0a0a" stroke-width="2.9"/>
<path d="M860.3 643.5 L858.5 683" stroke="#0a0a0a" stroke-width="2.9"/>
<path d="M849.5 659.6 L874.7 657" stroke="#0a0a0a" stroke-width="2.9"/>
<path d="M872 672.2C873.6 671.8 880.5 670.7 881.8 669.5C883.1 668.3 881.3 665.6 880 665C878.7 664.4 875.3 664.5 873.8 665.9C872.3 667.2 871.1 670.5 871.1 673.1C871.1 675.7 871.6 679.6 873.8 681.2C876 682.9 882.7 682.7 884.5 683" stroke="#0a0a0a" stroke-width="2.9"/>
<path d="M904 679C902.8 678 899.2 673.9 897 673.3C894.8 672.7 891.8 674.2 890.5 675.5C889.2 676.8 888.9 679.5 889.5 681C890.1 682.5 891.2 684.2 894 684.5C896.8 684.8 904 683.2 906 683" stroke="#0a0a0a" stroke-width="2.9"/>
<path d="M907.9 646.2 L906.1 682.1" stroke="#0a0a0a" stroke-width="2.9"/>
<path d="M965.1 657.1C964.3 656.9 962.1 655.7 960.5 655.8C958.9 655.9 957 656.5 955.5 657.9C954 659.3 952 662.1 951.3 664.2C950.6 666.4 950.6 668.9 951.3 670.8C952 672.7 953.8 674.8 955.5 675.8C957.2 676.8 959.5 677 961.3 676.7C963.1 676.4 965.5 674.6 966.3 674.2" stroke="#0a0a0a" stroke-width="2.9"/>
<path d="M973 662.5C972.3 662.4 970.2 661.3 968.8 661.7C967.4 662.1 965.6 663.5 964.7 665C963.8 666.5 963.2 669.3 963.4 670.8C963.6 672.3 964.8 673.3 965.9 673.8C967 674.2 968.4 674.1 969.7 673.3C971 672.5 972.8 670.9 973.8 669.2C974.8 667.5 975.2 664.3 975.5 663.3" stroke="#0a0a0a" stroke-width="2.9"/>
<path d="M975.8 660.5C975.8 661.6 975.5 664.9 975.6 667C975.7 669.1 976.1 672.2 976.2 673.3" stroke="#0a0a0a" stroke-width="2.9"/>
<path d="M983.8 661.7C983.5 664.1 982.8 671.6 982.2 675.8C981.7 680 981 683.2 980.5 686.7C980 690.2 979.5 695 979.2 696.7" stroke="#0a0a0a" stroke-width="2.9"/>
<path d="M983 664.2C983.7 663.4 985.7 660.2 987.2 659.2C988.7 658.2 990.5 657.6 992.2 657.9C993.9 658.2 996.4 659.3 997.2 660.8C998 662.3 997.9 664.9 997.2 666.7C996.5 668.5 994.5 670.5 993 671.7C991.5 673 989.7 673.8 988 674.2C986.3 674.6 983.8 674.2 983 674.2" stroke="#0a0a0a" stroke-width="2.9"/>
<path d="M1014.7 656.7C1013.9 656.7 1011.4 656 1009.7 656.7C1008 657.4 1005.8 659.1 1004.7 660.8C1003.6 662.5 1002.9 665.1 1003 666.7C1003.1 668.3 1004.2 669.9 1005.5 670.4C1006.8 670.9 1009 670.9 1010.5 670C1012 669.1 1013.7 667.2 1014.7 665C1015.7 662.8 1016.1 656.7 1016.3 656.7C1016.5 656.7 1015.8 662.8 1015.9 665C1016 667.2 1016.6 669 1017.2 670C1017.8 671 1019.3 671 1019.7 671.2" stroke="#0a0a0a" stroke-width="2.9"/>
<path d="M1028 659.2C1027.6 659 1026.3 657.8 1025.5 657.9C1024.7 658 1023.6 658.8 1023 660C1022.4 661.2 1021.6 663.4 1021.8 665C1021.9 666.6 1022.8 668.6 1023.8 669.6C1024.8 670.6 1026.3 670.7 1028 670.8C1029.7 670.9 1032 670.4 1033.8 670C1035.6 669.6 1038 668.6 1038.8 668.3" stroke="#0a0a0a" stroke-width="2.9"/>
<path d="M1041.3 657.9C1041.2 659 1040.7 662.3 1040.5 664.2C1040.3 666.1 1040.2 668.4 1040.1 669.2" stroke="#0a0a0a" stroke-width="2.9"/>
<circle cx="1041.9" cy="641.9" r="2.3" stroke="#0a0a0a" stroke-width="2.2"/>
<path d="M1063.2 634.9C1062.8 637 1061.9 643.3 1061.1 647.4C1060.3 651.5 1059.1 655.5 1058.3 659.2C1057.5 662.9 1056.5 667 1056.2 669.6C1056 672.2 1055.9 674.3 1056.6 675.1C1057.3 675.9 1059 675.2 1060.4 674.4C1061.9 673.6 1063.8 671.9 1065.3 670.3C1066.8 668.7 1068.7 665.6 1069.4 664.7" stroke="#0a0a0a" stroke-width="2.9"/>
<path d="M1053.8 654.6C1054.9 654.5 1057.3 653.9 1060.4 653.6C1063.5 653.3 1070.2 652.8 1072.2 652.6" stroke="#0a0a0a" stroke-width="2.9"/>
<ellipse cx="1075" cy="661.6" rx="4.5" ry="6.2" transform="rotate(25 1075 661.6)" stroke="#0a0a0a" stroke-width="2.9"/>
<ellipse cx="1089.2" cy="662.6" rx="3.8" ry="6.4" transform="rotate(20 1089.2 662.6)" stroke="#0a0a0a" stroke-width="2.9"/>
<path d="M1113.2 650.5C1111.7 650.7 1106.6 650.8 1104.2 651.5C1101.8 652.2 1099.2 654 1098.6 655C1098 656 1099.3 657 1100.7 657.8C1102.1 658.6 1105.3 659 1106.9 659.9C1108.5 660.8 1110.2 662 1110.4 663.3C1110.6 664.6 1109.6 666.4 1108.3 667.5C1107 668.6 1104.6 669.5 1102.8 669.9C1101 670.2 1098.8 670 1097.2 669.6C1095.6 669.2 1093.8 667.9 1093.1 667.5" stroke="#0a0a0a" stroke-width="2.9"/>
<path d="M1141.4 627.7C1139.4 629.7 1132.1 634.8 1129.4 639.7C1126.7 644.6 1125.2 651.7 1125 657.2C1124.8 662.7 1126.5 668.1 1128.3 672.5C1130.1 676.9 1134.7 681.6 1136 683.4" stroke="#1458a2" stroke-width="2.7"/>
<path d="M1165.3 649.4C1165 650.4 1163.9 652.9 1163.3 655.3C1162.7 657.7 1162.4 660.9 1161.4 664C1160.4 667.1 1159.1 670.1 1157.5 673.7C1155.9 677.3 1153.6 681.7 1151.7 685.4C1149.8 689.1 1147.2 694.3 1146.3 696.1" stroke="#1458a2" stroke-width="2.7"/>
<path d="M1163.3 659.2C1163.5 659.8 1163.5 662.2 1164.3 663C1165.1 663.8 1166.9 664.5 1168.2 664C1169.5 663.5 1171 662.4 1172.1 660.1C1173.2 657.8 1174.5 652 1175 650.4" stroke="#1458a2" stroke-width="2.7"/>
<path d="M1175 650.4C1175 651.7 1175 655.9 1175.2 658.2C1175.4 660.5 1175.4 662.7 1176 664C1176.6 665.3 1178.4 665.7 1178.9 666" stroke="#1458a2" stroke-width="2.7"/>
<path d="M1185.7 643.6C1185.2 645.9 1183.8 652.7 1182.8 657.2C1181.8 661.7 1180.3 668.5 1179.8 670.8" stroke="#1458a2" stroke-width="2.7"/>
<path d="M1181.8 642.6C1183.2 642.1 1187.4 640.6 1190.5 639.7C1193.6 638.8 1198.7 637.7 1200.3 637.3" stroke="#1458a2" stroke-width="2.7"/>
<path d="M1176 658.2C1177.8 657.9 1182.2 656.9 1186.6 656.2C1191 655.6 1199.6 654.6 1202.2 654.3" stroke="#1458a2" stroke-width="2.7"/>
<path d="M1204.9 628.8C1206.5 630.6 1212.7 635.3 1214.7 639.7C1216.7 644.1 1217.5 649.9 1216.9 655C1216.4 660.1 1214.1 665.8 1211.4 670.3C1208.7 674.8 1202.3 680.3 1200.5 682.3" stroke="#1458a2" stroke-width="2.7"/>
<path d="M-1 661.5C-0.6 661.4 0.8 660.8 1.5 661C2.2 661.2 2.8 662 3.2 663C3.6 664 3.8 665.8 4 667C4.2 668.2 4.2 669.1 4.6 670C5 670.9 5.5 672.1 6.2 672.6C6.9 673.1 7.8 673.2 8.7 672.9C9.6 672.6 11.2 671.1 11.7 670.7" stroke="#1458a2" stroke-width="2.7"/>
<path d="M-1 670.5C-0.7 670.8 0.4 671.9 1 672.3C1.6 672.7 2.5 672.9 2.8 673" stroke="#1458a2" stroke-width="2.7"/>
<path d="M20.6 640.6C20.2 642.5 19.3 648 18.5 652C17.7 656 16.7 660.8 16 664.4C15.3 668 14.2 672.3 14.3 673.8C14.4 675.3 16.1 673.3 16.5 673.2" stroke="#1458a2" stroke-width="2.7"/>
<path d="M12.6 655.7C12.9 655.6 12.3 655.5 14.6 655.2C16.9 654.9 24.2 654.1 26.1 653.9" stroke="#1458a2" stroke-width="2.7"/>
<path d="M23.9 666.7C24.9 666.6 28.2 666.4 30 666C31.8 665.6 33.9 665.5 34.4 664.4C34.9 663.3 34.3 660.3 33.3 659.4C32.3 658.5 29.9 658.1 28.3 658.9C26.7 659.7 24.4 662.4 23.9 664.4C23.3 666.4 24 669.5 25 671.1C26 672.7 27.8 674.1 30 673.9C32.2 673.7 36.9 670.6 38.3 670" stroke="#1458a2" stroke-width="2.7"/>
<path d="M1266.6 68.5 L1269.3 64.9" stroke="#0a0a0a" stroke-width="2.9"/>
<path d="M1268 70.8 L1256.7 107.8" stroke="#0a0a0a" stroke-width="2.9"/>
<path d="M1268.9 66C1269.8 69.4 1273 80.9 1274.3 86.6C1275.6 92.3 1276.5 96 1277 100.1C1277.5 104.2 1277 109.2 1277 111" stroke="#0a0a0a" stroke-width="2.9"/>
<path d="M1260.3 99.2 L1281 94.5" stroke="#0a0a0a" stroke-width="2.9"/>
<path d="M1238 205.3 L1246.7 177.5" stroke="#0a0a0a" stroke-width="2.9"/>
<path d="M1246.7 177.5C1247.3 177.7 1248.9 177.6 1250.1 178.9C1251.2 180.2 1252.7 182.8 1253.6 185.1C1254.5 187.4 1254.9 189.9 1255.3 192.8C1255.7 195.8 1255.6 201.1 1255.7 202.8" stroke="#0a0a0a" stroke-width="2.9"/>
<path d="M1243.9 195.6 L1260.2 191.7" stroke="#0a0a0a" stroke-width="2.9"/>
<path d="M1265.8 192.8 L1270.3 207 L1277.2 191.4" stroke="#0a0a0a" stroke-width="2.9"/>
<path d="M1281 196C1280.7 196.5 1279.2 197.3 1279 199C1278.8 200.7 1279.2 204.7 1279.5 206C1279.8 207.3 1280.8 206.8 1281 207" stroke="#0a0a0a" stroke-width="2.9"/>
<path d="M1273.8 655C1273.9 655.6 1273.7 657.8 1274.3 658.9C1274.9 660 1276.1 660.7 1277.2 661.4C1278.3 662.1 1280.4 662.7 1281 663" stroke="#d21a31" stroke-width="2.7"/>
<path d="M1273.8 672C1274 673.1 1274.4 676.5 1275.2 678.8C1276 681.1 1277.6 684.5 1278.6 686C1279.6 687.5 1280.6 687.7 1281 688" stroke="#d21a31" stroke-width="2.7"/>
<path d="M1281 687C1280.2 688.4 1277.5 692.8 1276.2 695.3C1275 697.8 1274 700.9 1273.5 702" stroke="#d21a31" stroke-width="2.7"/>
<path d="M732.8 719.4 L739 716.3" stroke="#0a0a0a" stroke-width="2.9"/>
<path d="M761.7 717 L763.3 721" stroke="#0a0a0a" stroke-width="2.9"/>
<path d="M889 714 L888.3 721" stroke="#0a0a0a" stroke-width="2.9"/>
<path d="M932 716.3 L930.5 721" stroke="#0a0a0a" stroke-width="2.9"/>
<path d="M992.2 715.5 L992.2 721" stroke="#0a0a0a" stroke-width="2.9"/>
<ellipse cx="1145" cy="717" rx="4" ry="3" stroke="#0a0a0a" stroke-width="2.9"/>
<path d="M1163.3 709.7 L1162.6 721" stroke="#0a0a0a" stroke-width="2.9"/>
</svg>
</body></html>
